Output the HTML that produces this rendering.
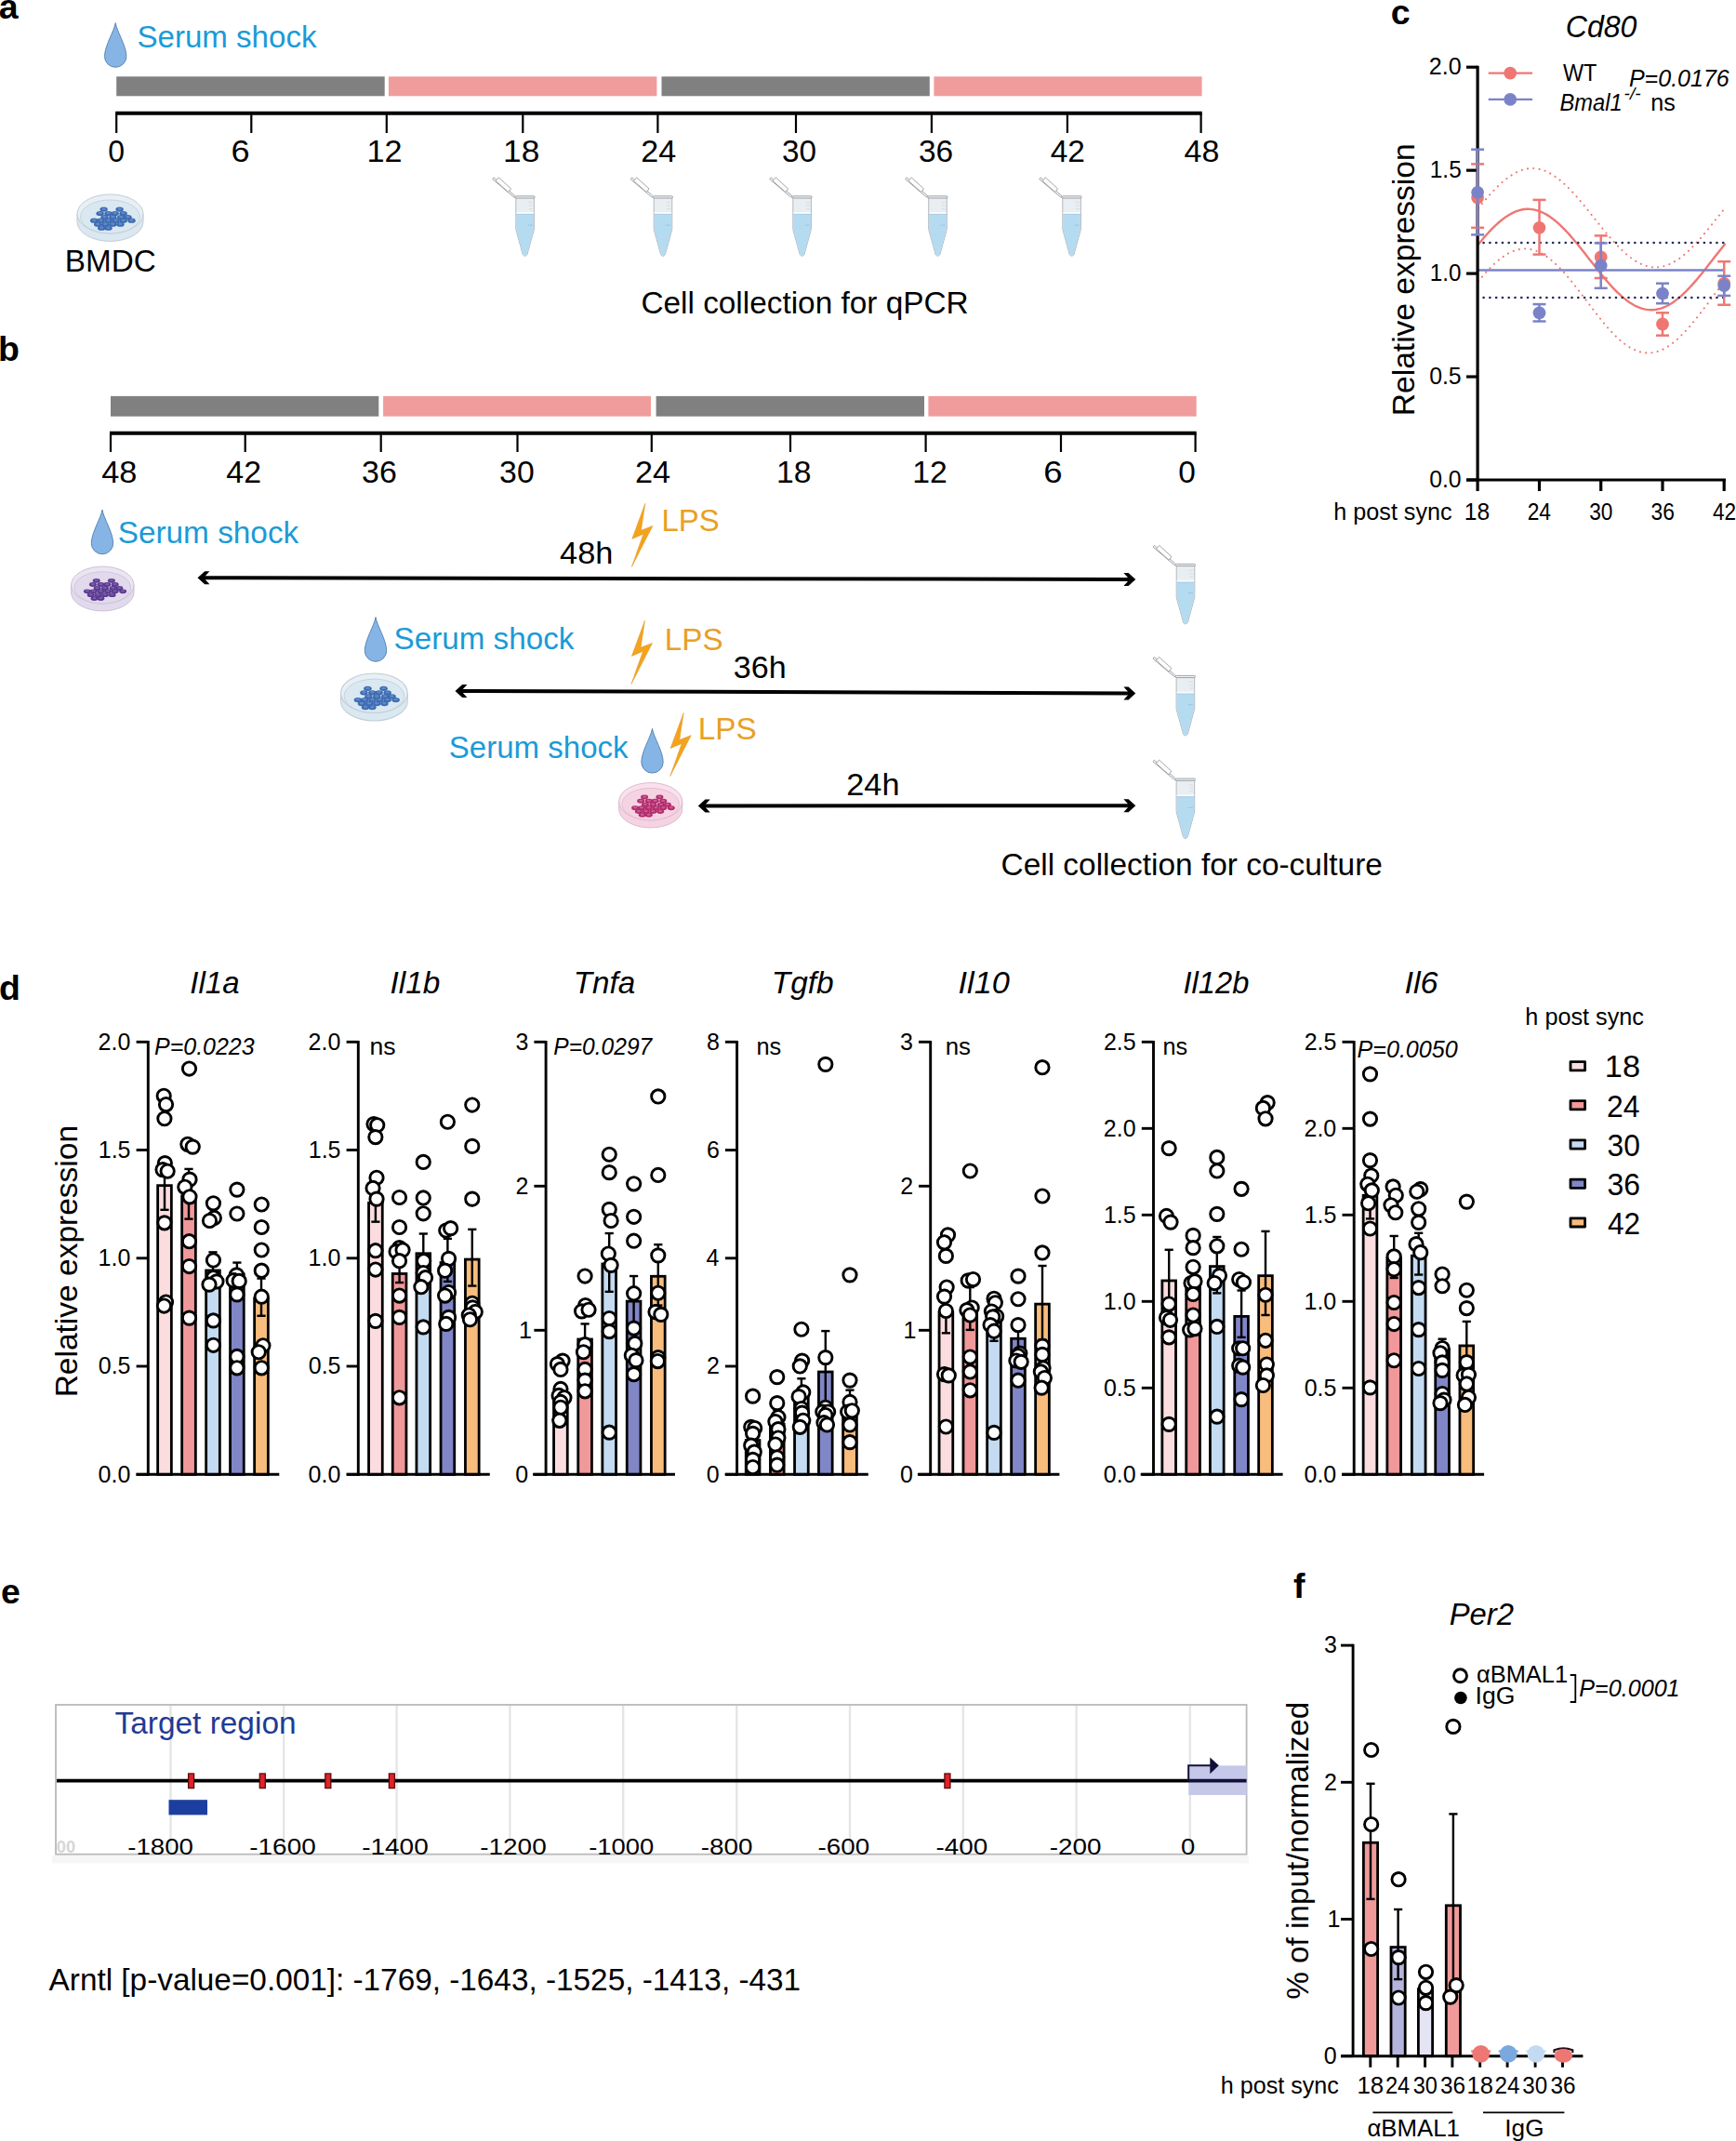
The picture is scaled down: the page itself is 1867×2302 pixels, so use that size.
<!DOCTYPE html><html><head><meta charset="utf-8"><title>figure</title><style>html,body{margin:0;padding:0;background:#fff}svg{display:block}text{font-family:"Liberation Sans",sans-serif}</style></head><body>
<svg width="1867" height="2302" viewBox="0 0 1867 2302">
<rect width="1867" height="2302" fill="#fff"/>
<text x="-1.24" y="20.20" font-size="37.50" fill="#000" font-weight="bold">a</text>
<g transform="translate(124.20 24.20)"><path d="M0,0.4 C1.2,9 11.7,25 11.7,36.4 A11.7,11.7 0 0 1 -11.7,36.4 C-11.7,25 -1.2,9 0,0.4 Z" fill="#86b5e5" stroke="#4f7fb0" stroke-width="0.9"/></g>
<text x="147.41" y="51.40" font-size="33.33" fill="#1B9AD7" textLength="193.14" lengthAdjust="spacingAndGlyphs">Serum shock</text>
<rect x="125.20" y="82.30" width="288.50" height="21.00" fill="#808080"/>
<rect x="417.90" y="82.30" width="288.50" height="21.00" fill="#f09c9c"/>
<rect x="711.50" y="82.30" width="288.30" height="21.00" fill="#808080"/>
<rect x="1004.40" y="82.30" width="288.20" height="21.00" fill="#f09c9c"/>
<line x1="124.20" y1="121.70" x2="1292.70" y2="121.70" stroke="#000" stroke-width="4.00"/>
<line x1="125.20" y1="121.70" x2="125.20" y2="143.00" stroke="#000" stroke-width="2.20"/>
<line x1="270.30" y1="121.70" x2="270.30" y2="143.00" stroke="#000" stroke-width="2.20"/>
<line x1="415.80" y1="121.70" x2="415.80" y2="143.00" stroke="#000" stroke-width="2.20"/>
<line x1="562.30" y1="121.70" x2="562.30" y2="143.00" stroke="#000" stroke-width="2.20"/>
<line x1="707.40" y1="121.70" x2="707.40" y2="143.00" stroke="#000" stroke-width="2.20"/>
<line x1="856.00" y1="121.70" x2="856.00" y2="143.00" stroke="#000" stroke-width="2.20"/>
<line x1="1001.90" y1="121.70" x2="1001.90" y2="143.00" stroke="#000" stroke-width="2.20"/>
<line x1="1147.90" y1="121.70" x2="1147.90" y2="143.00" stroke="#000" stroke-width="2.20"/>
<line x1="1291.60" y1="121.70" x2="1291.60" y2="143.00" stroke="#000" stroke-width="2.20"/>
<text x="116.18" y="174.20" font-size="33.33" fill="#000" textLength="17.77" lengthAdjust="spacingAndGlyphs">0</text>
<text x="248.49" y="174.20" font-size="33.33" fill="#000" textLength="20.09" lengthAdjust="spacingAndGlyphs">6</text>
<text x="394.46" y="174.20" font-size="33.33" fill="#000" textLength="38.16" lengthAdjust="spacingAndGlyphs">12</text>
<text x="541.05" y="174.20" font-size="33.33" fill="#000" textLength="39.24" lengthAdjust="spacingAndGlyphs">18</text>
<text x="689.39" y="174.20" font-size="33.33" fill="#000" textLength="37.94" lengthAdjust="spacingAndGlyphs">24</text>
<text x="841.04" y="174.20" font-size="33.33" fill="#000" textLength="37.01" lengthAdjust="spacingAndGlyphs">30</text>
<text x="987.93" y="174.20" font-size="33.33" fill="#000" textLength="37.19" lengthAdjust="spacingAndGlyphs">36</text>
<text x="1129.73" y="174.20" font-size="33.33" fill="#000" textLength="37.26" lengthAdjust="spacingAndGlyphs">42</text>
<text x="1273.52" y="174.20" font-size="33.33" fill="#000" textLength="37.82" lengthAdjust="spacingAndGlyphs">48</text>
<g transform="translate(118.50 234.20) scale(1.000)">
<path d="M-35.5,-4.2 L-35.5,4.2 A35.5,21 0 0 0 35.5,4.2 L35.5,-4.2 Z" fill="#d9e8f1" stroke="#c3cbd3" stroke-width="1"/>
<ellipse cx="0" cy="-4.2" rx="35.5" ry="21" fill="#e6f0f6" stroke="#c3cbd3" stroke-width="1"/>
<ellipse cx="0" cy="-1.2" rx="32" ry="18" fill="#d9e8f1" stroke="#c3cbd3" stroke-width="0.8"/>
<ellipse cx="-6.9" cy="-9.1" rx="4.2" ry="2.6" fill="#3d6ab0"/>
<ellipse cx="-6.9" cy="-9.5" rx="2.2" ry="1.2" fill="#5f8bcd"/>
<ellipse cx="10.1" cy="-9.1" rx="4.2" ry="2.6" fill="#3d6ab0"/>
<ellipse cx="10.1" cy="-9.5" rx="2.2" ry="1.2" fill="#5f8bcd"/>
<ellipse cx="-10.9" cy="-4.7" rx="4.2" ry="2.6" fill="#3d6ab0"/>
<ellipse cx="-10.9" cy="-5.1" rx="2.2" ry="1.2" fill="#5f8bcd"/>
<ellipse cx="-2.0" cy="-4.7" rx="4.2" ry="2.6" fill="#3d6ab0"/>
<ellipse cx="-2.0" cy="-5.1" rx="2.2" ry="1.2" fill="#5f8bcd"/>
<ellipse cx="5.2" cy="-4.7" rx="4.2" ry="2.6" fill="#3d6ab0"/>
<ellipse cx="5.2" cy="-5.1" rx="2.2" ry="1.2" fill="#5f8bcd"/>
<ellipse cx="14.1" cy="-4.7" rx="4.2" ry="2.6" fill="#3d6ab0"/>
<ellipse cx="14.1" cy="-5.1" rx="2.2" ry="1.2" fill="#5f8bcd"/>
<ellipse cx="-6.0" cy="-0.6" rx="4.2" ry="2.6" fill="#3d6ab0"/>
<ellipse cx="-6.0" cy="-1.0" rx="2.2" ry="1.2" fill="#5f8bcd"/>
<ellipse cx="2.8" cy="-0.6" rx="4.2" ry="2.6" fill="#3d6ab0"/>
<ellipse cx="2.8" cy="-1.0" rx="2.2" ry="1.2" fill="#5f8bcd"/>
<ellipse cx="11.7" cy="-0.6" rx="4.2" ry="2.6" fill="#3d6ab0"/>
<ellipse cx="11.7" cy="-1.0" rx="2.2" ry="1.2" fill="#5f8bcd"/>
<ellipse cx="19.0" cy="-0.6" rx="4.2" ry="2.6" fill="#3d6ab0"/>
<ellipse cx="19.0" cy="-1.0" rx="2.2" ry="1.2" fill="#5f8bcd"/>
<ellipse cx="-17.3" cy="3.0" rx="4.2" ry="2.6" fill="#3d6ab0"/>
<ellipse cx="-17.3" cy="2.6" rx="2.2" ry="1.2" fill="#5f8bcd"/>
<ellipse cx="-10.1" cy="3.0" rx="4.2" ry="2.6" fill="#3d6ab0"/>
<ellipse cx="-10.1" cy="2.6" rx="2.2" ry="1.2" fill="#5f8bcd"/>
<ellipse cx="-2.0" cy="3.0" rx="4.2" ry="2.6" fill="#3d6ab0"/>
<ellipse cx="-2.0" cy="2.6" rx="2.2" ry="1.2" fill="#5f8bcd"/>
<ellipse cx="6.0" cy="3.0" rx="4.2" ry="2.6" fill="#3d6ab0"/>
<ellipse cx="6.0" cy="2.6" rx="2.2" ry="1.2" fill="#5f8bcd"/>
<ellipse cx="14.1" cy="3.0" rx="4.2" ry="2.6" fill="#3d6ab0"/>
<ellipse cx="14.1" cy="2.6" rx="2.2" ry="1.2" fill="#5f8bcd"/>
<ellipse cx="23.0" cy="3.0" rx="4.2" ry="2.6" fill="#3d6ab0"/>
<ellipse cx="23.0" cy="2.6" rx="2.2" ry="1.2" fill="#5f8bcd"/>
<ellipse cx="-13.3" cy="7.0" rx="4.2" ry="2.6" fill="#3d6ab0"/>
<ellipse cx="-13.3" cy="6.6" rx="2.2" ry="1.2" fill="#5f8bcd"/>
<ellipse cx="-5.2" cy="7.0" rx="4.2" ry="2.6" fill="#3d6ab0"/>
<ellipse cx="-5.2" cy="6.6" rx="2.2" ry="1.2" fill="#5f8bcd"/>
<ellipse cx="2.8" cy="7.0" rx="4.2" ry="2.6" fill="#3d6ab0"/>
<ellipse cx="2.8" cy="6.6" rx="2.2" ry="1.2" fill="#5f8bcd"/>
<ellipse cx="10.9" cy="7.0" rx="4.2" ry="2.6" fill="#3d6ab0"/>
<ellipse cx="10.9" cy="6.6" rx="2.2" ry="1.2" fill="#5f8bcd"/>
<ellipse cx="-9.3" cy="11.0" rx="4.2" ry="2.6" fill="#3d6ab0"/>
<ellipse cx="-9.3" cy="10.6" rx="2.2" ry="1.2" fill="#5f8bcd"/>
<ellipse cx="-2.0" cy="11.0" rx="4.2" ry="2.6" fill="#3d6ab0"/>
<ellipse cx="-2.0" cy="10.6" rx="2.2" ry="1.2" fill="#5f8bcd"/>
</g>
<text x="69.84" y="291.90" font-size="33.33" fill="#000" textLength="97.97" lengthAdjust="spacingAndGlyphs">BMDC</text>
<g transform="translate(564.60 210.60)"><path d="M-10.5,1.6 L-12.5,1 L-34.9,-18 L-33.5,-19.7 L-12.6,-1.6 L-10.5,0.3" fill="#f3f4f5" stroke="#8e9296" stroke-width="0.8"/>
<path d="M-28.3,-19.8 L-15,-7.7 L-17.8,-4 L-31.5,-16.1 Z" fill="#fbfbfc" stroke="#8e9296" stroke-width="0.8" stroke-linejoin="round"/>
<path d="M-9.8,2 L-9.8,36 L-2.4,63 Q0,66.5 2.4,63 L9.8,36 L9.8,2 Z" fill="#e9eef2" stroke="#a3a9af" stroke-width="0.8"/>
<path d="M-9.4,19.8 L9.4,19.8 L9.4,36 L2.2,62.8 Q0,65.8 -2.2,62.8 L-9.4,36 Z" fill="#b5dbf1"/>
<path d="M-9.4,19.8 L9.4,19.8" stroke="#a4c7de" stroke-width="0.9"/>
<rect x="-9.3" y="17.4" width="18.6" height="1.8" fill="#f6fafc"/>
<path d="M3.5,7 H8 M4.5,10.5 H8 M4.5,14 H8" stroke="#d3d8dc" stroke-width="0.8"/>
<path d="M3,31.5 H8" stroke="#9fc3db" stroke-width="1"/>
<rect x="-10.5" y="0.2" width="21" height="2.2" rx="0.8" fill="#eef0f2" stroke="#8e9296" stroke-width="0.8"/></g>
<g transform="translate(713.00 210.60)"><path d="M-10.5,1.6 L-12.5,1 L-34.9,-18 L-33.5,-19.7 L-12.6,-1.6 L-10.5,0.3" fill="#f3f4f5" stroke="#8e9296" stroke-width="0.8"/>
<path d="M-28.3,-19.8 L-15,-7.7 L-17.8,-4 L-31.5,-16.1 Z" fill="#fbfbfc" stroke="#8e9296" stroke-width="0.8" stroke-linejoin="round"/>
<path d="M-9.8,2 L-9.8,36 L-2.4,63 Q0,66.5 2.4,63 L9.8,36 L9.8,2 Z" fill="#e9eef2" stroke="#a3a9af" stroke-width="0.8"/>
<path d="M-9.4,19.8 L9.4,19.8 L9.4,36 L2.2,62.8 Q0,65.8 -2.2,62.8 L-9.4,36 Z" fill="#b5dbf1"/>
<path d="M-9.4,19.8 L9.4,19.8" stroke="#a4c7de" stroke-width="0.9"/>
<rect x="-9.3" y="17.4" width="18.6" height="1.8" fill="#f6fafc"/>
<path d="M3.5,7 H8 M4.5,10.5 H8 M4.5,14 H8" stroke="#d3d8dc" stroke-width="0.8"/>
<path d="M3,31.5 H8" stroke="#9fc3db" stroke-width="1"/>
<rect x="-10.5" y="0.2" width="21" height="2.2" rx="0.8" fill="#eef0f2" stroke="#8e9296" stroke-width="0.8"/></g>
<g transform="translate(862.60 210.60)"><path d="M-10.5,1.6 L-12.5,1 L-34.9,-18 L-33.5,-19.7 L-12.6,-1.6 L-10.5,0.3" fill="#f3f4f5" stroke="#8e9296" stroke-width="0.8"/>
<path d="M-28.3,-19.8 L-15,-7.7 L-17.8,-4 L-31.5,-16.1 Z" fill="#fbfbfc" stroke="#8e9296" stroke-width="0.8" stroke-linejoin="round"/>
<path d="M-9.8,2 L-9.8,36 L-2.4,63 Q0,66.5 2.4,63 L9.8,36 L9.8,2 Z" fill="#e9eef2" stroke="#a3a9af" stroke-width="0.8"/>
<path d="M-9.4,19.8 L9.4,19.8 L9.4,36 L2.2,62.8 Q0,65.8 -2.2,62.8 L-9.4,36 Z" fill="#b5dbf1"/>
<path d="M-9.4,19.8 L9.4,19.8" stroke="#a4c7de" stroke-width="0.9"/>
<rect x="-9.3" y="17.4" width="18.6" height="1.8" fill="#f6fafc"/>
<path d="M3.5,7 H8 M4.5,10.5 H8 M4.5,14 H8" stroke="#d3d8dc" stroke-width="0.8"/>
<path d="M3,31.5 H8" stroke="#9fc3db" stroke-width="1"/>
<rect x="-10.5" y="0.2" width="21" height="2.2" rx="0.8" fill="#eef0f2" stroke="#8e9296" stroke-width="0.8"/></g>
<g transform="translate(1008.50 210.60)"><path d="M-10.5,1.6 L-12.5,1 L-34.9,-18 L-33.5,-19.7 L-12.6,-1.6 L-10.5,0.3" fill="#f3f4f5" stroke="#8e9296" stroke-width="0.8"/>
<path d="M-28.3,-19.8 L-15,-7.7 L-17.8,-4 L-31.5,-16.1 Z" fill="#fbfbfc" stroke="#8e9296" stroke-width="0.8" stroke-linejoin="round"/>
<path d="M-9.8,2 L-9.8,36 L-2.4,63 Q0,66.5 2.4,63 L9.8,36 L9.8,2 Z" fill="#e9eef2" stroke="#a3a9af" stroke-width="0.8"/>
<path d="M-9.4,19.8 L9.4,19.8 L9.4,36 L2.2,62.8 Q0,65.8 -2.2,62.8 L-9.4,36 Z" fill="#b5dbf1"/>
<path d="M-9.4,19.8 L9.4,19.8" stroke="#a4c7de" stroke-width="0.9"/>
<rect x="-9.3" y="17.4" width="18.6" height="1.8" fill="#f6fafc"/>
<path d="M3.5,7 H8 M4.5,10.5 H8 M4.5,14 H8" stroke="#d3d8dc" stroke-width="0.8"/>
<path d="M3,31.5 H8" stroke="#9fc3db" stroke-width="1"/>
<rect x="-10.5" y="0.2" width="21" height="2.2" rx="0.8" fill="#eef0f2" stroke="#8e9296" stroke-width="0.8"/></g>
<g transform="translate(1152.60 210.60)"><path d="M-10.5,1.6 L-12.5,1 L-34.9,-18 L-33.5,-19.7 L-12.6,-1.6 L-10.5,0.3" fill="#f3f4f5" stroke="#8e9296" stroke-width="0.8"/>
<path d="M-28.3,-19.8 L-15,-7.7 L-17.8,-4 L-31.5,-16.1 Z" fill="#fbfbfc" stroke="#8e9296" stroke-width="0.8" stroke-linejoin="round"/>
<path d="M-9.8,2 L-9.8,36 L-2.4,63 Q0,66.5 2.4,63 L9.8,36 L9.8,2 Z" fill="#e9eef2" stroke="#a3a9af" stroke-width="0.8"/>
<path d="M-9.4,19.8 L9.4,19.8 L9.4,36 L2.2,62.8 Q0,65.8 -2.2,62.8 L-9.4,36 Z" fill="#b5dbf1"/>
<path d="M-9.4,19.8 L9.4,19.8" stroke="#a4c7de" stroke-width="0.9"/>
<rect x="-9.3" y="17.4" width="18.6" height="1.8" fill="#f6fafc"/>
<path d="M3.5,7 H8 M4.5,10.5 H8 M4.5,14 H8" stroke="#d3d8dc" stroke-width="0.8"/>
<path d="M3,31.5 H8" stroke="#9fc3db" stroke-width="1"/>
<rect x="-10.5" y="0.2" width="21" height="2.2" rx="0.8" fill="#eef0f2" stroke="#8e9296" stroke-width="0.8"/></g>
<text x="689.43" y="337.00" font-size="33.33" fill="#000" textLength="352.20" lengthAdjust="spacingAndGlyphs">Cell collection for qPCR</text>
<text x="-1.94" y="388.40" font-size="37.50" fill="#000" font-weight="bold">b</text>
<rect x="119.00" y="425.90" width="288.30" height="21.80" fill="#808080"/>
<rect x="412.10" y="425.90" width="287.90" height="21.80" fill="#f09c9c"/>
<rect x="705.60" y="425.90" width="288.40" height="21.80" fill="#808080"/>
<rect x="998.40" y="425.90" width="288.30" height="21.80" fill="#f09c9c"/>
<line x1="118.00" y1="465.80" x2="1286.70" y2="465.80" stroke="#000" stroke-width="4.00"/>
<line x1="119.00" y1="465.80" x2="119.00" y2="486.00" stroke="#000" stroke-width="2.20"/>
<line x1="263.70" y1="465.80" x2="263.70" y2="486.00" stroke="#000" stroke-width="2.20"/>
<line x1="409.70" y1="465.80" x2="409.70" y2="486.00" stroke="#000" stroke-width="2.20"/>
<line x1="556.50" y1="465.80" x2="556.50" y2="486.00" stroke="#000" stroke-width="2.20"/>
<line x1="700.80" y1="465.80" x2="700.80" y2="486.00" stroke="#000" stroke-width="2.20"/>
<line x1="850.00" y1="465.80" x2="850.00" y2="486.00" stroke="#000" stroke-width="2.20"/>
<line x1="995.60" y1="465.80" x2="995.60" y2="486.00" stroke="#000" stroke-width="2.20"/>
<line x1="1141.00" y1="465.80" x2="1141.00" y2="486.00" stroke="#000" stroke-width="2.20"/>
<line x1="1285.60" y1="465.80" x2="1285.60" y2="486.00" stroke="#000" stroke-width="2.20"/>
<text x="109.31" y="518.50" font-size="33.33" fill="#000" textLength="38.14" lengthAdjust="spacingAndGlyphs">48</text>
<text x="243.32" y="518.50" font-size="33.33" fill="#000" textLength="37.68" lengthAdjust="spacingAndGlyphs">42</text>
<text x="389.11" y="518.50" font-size="33.33" fill="#000" textLength="37.72" lengthAdjust="spacingAndGlyphs">36</text>
<text x="537.12" y="518.50" font-size="33.33" fill="#000" textLength="37.54" lengthAdjust="spacingAndGlyphs">30</text>
<text x="682.99" y="518.50" font-size="33.33" fill="#000" textLength="38.15" lengthAdjust="spacingAndGlyphs">24</text>
<text x="835.04" y="518.50" font-size="33.33" fill="#000" textLength="37.39" lengthAdjust="spacingAndGlyphs">18</text>
<text x="981.32" y="518.50" font-size="33.33" fill="#000" textLength="37.58" lengthAdjust="spacingAndGlyphs">12</text>
<text x="1122.17" y="518.50" font-size="33.33" fill="#000" textLength="20.33" lengthAdjust="spacingAndGlyphs">6</text>
<text x="1267.33" y="518.50" font-size="33.33" fill="#000" textLength="18.58" lengthAdjust="spacingAndGlyphs">0</text>
<g transform="translate(110.00 547.70)"><path d="M0,0.4 C1.2,9 11.7,25 11.7,36.4 A11.7,11.7 0 0 1 -11.7,36.4 C-11.7,25 -1.2,9 0,0.4 Z" fill="#86b5e5" stroke="#4f7fb0" stroke-width="0.9"/></g>
<text x="126.70" y="584.00" font-size="33.33" fill="#1B9AD7" textLength="194.55" lengthAdjust="spacingAndGlyphs">Serum shock</text>
<g transform="translate(110.30 633.00) scale(0.950)">
<path d="M-35.5,-4.2 L-35.5,4.2 A35.5,21 0 0 0 35.5,4.2 L35.5,-4.2 Z" fill="#e2d9ec" stroke="#c9c0d2" stroke-width="1"/>
<ellipse cx="0" cy="-4.2" rx="35.5" ry="21" fill="#ebe4f2" stroke="#c9c0d2" stroke-width="1"/>
<ellipse cx="0" cy="-1.2" rx="32" ry="18" fill="#e2d9ec" stroke="#c9c0d2" stroke-width="0.8"/>
<ellipse cx="-6.9" cy="-9.1" rx="4.2" ry="2.6" fill="#5a3a8e"/>
<ellipse cx="-6.9" cy="-9.5" rx="2.2" ry="1.2" fill="#7a5cae"/>
<ellipse cx="10.1" cy="-9.1" rx="4.2" ry="2.6" fill="#5a3a8e"/>
<ellipse cx="10.1" cy="-9.5" rx="2.2" ry="1.2" fill="#7a5cae"/>
<ellipse cx="-10.9" cy="-4.7" rx="4.2" ry="2.6" fill="#5a3a8e"/>
<ellipse cx="-10.9" cy="-5.1" rx="2.2" ry="1.2" fill="#7a5cae"/>
<ellipse cx="-2.0" cy="-4.7" rx="4.2" ry="2.6" fill="#5a3a8e"/>
<ellipse cx="-2.0" cy="-5.1" rx="2.2" ry="1.2" fill="#7a5cae"/>
<ellipse cx="5.2" cy="-4.7" rx="4.2" ry="2.6" fill="#5a3a8e"/>
<ellipse cx="5.2" cy="-5.1" rx="2.2" ry="1.2" fill="#7a5cae"/>
<ellipse cx="14.1" cy="-4.7" rx="4.2" ry="2.6" fill="#5a3a8e"/>
<ellipse cx="14.1" cy="-5.1" rx="2.2" ry="1.2" fill="#7a5cae"/>
<ellipse cx="-6.0" cy="-0.6" rx="4.2" ry="2.6" fill="#5a3a8e"/>
<ellipse cx="-6.0" cy="-1.0" rx="2.2" ry="1.2" fill="#7a5cae"/>
<ellipse cx="2.8" cy="-0.6" rx="4.2" ry="2.6" fill="#5a3a8e"/>
<ellipse cx="2.8" cy="-1.0" rx="2.2" ry="1.2" fill="#7a5cae"/>
<ellipse cx="11.7" cy="-0.6" rx="4.2" ry="2.6" fill="#5a3a8e"/>
<ellipse cx="11.7" cy="-1.0" rx="2.2" ry="1.2" fill="#7a5cae"/>
<ellipse cx="19.0" cy="-0.6" rx="4.2" ry="2.6" fill="#5a3a8e"/>
<ellipse cx="19.0" cy="-1.0" rx="2.2" ry="1.2" fill="#7a5cae"/>
<ellipse cx="-17.3" cy="3.0" rx="4.2" ry="2.6" fill="#5a3a8e"/>
<ellipse cx="-17.3" cy="2.6" rx="2.2" ry="1.2" fill="#7a5cae"/>
<ellipse cx="-10.1" cy="3.0" rx="4.2" ry="2.6" fill="#5a3a8e"/>
<ellipse cx="-10.1" cy="2.6" rx="2.2" ry="1.2" fill="#7a5cae"/>
<ellipse cx="-2.0" cy="3.0" rx="4.2" ry="2.6" fill="#5a3a8e"/>
<ellipse cx="-2.0" cy="2.6" rx="2.2" ry="1.2" fill="#7a5cae"/>
<ellipse cx="6.0" cy="3.0" rx="4.2" ry="2.6" fill="#5a3a8e"/>
<ellipse cx="6.0" cy="2.6" rx="2.2" ry="1.2" fill="#7a5cae"/>
<ellipse cx="14.1" cy="3.0" rx="4.2" ry="2.6" fill="#5a3a8e"/>
<ellipse cx="14.1" cy="2.6" rx="2.2" ry="1.2" fill="#7a5cae"/>
<ellipse cx="23.0" cy="3.0" rx="4.2" ry="2.6" fill="#5a3a8e"/>
<ellipse cx="23.0" cy="2.6" rx="2.2" ry="1.2" fill="#7a5cae"/>
<ellipse cx="-13.3" cy="7.0" rx="4.2" ry="2.6" fill="#5a3a8e"/>
<ellipse cx="-13.3" cy="6.6" rx="2.2" ry="1.2" fill="#7a5cae"/>
<ellipse cx="-5.2" cy="7.0" rx="4.2" ry="2.6" fill="#5a3a8e"/>
<ellipse cx="-5.2" cy="6.6" rx="2.2" ry="1.2" fill="#7a5cae"/>
<ellipse cx="2.8" cy="7.0" rx="4.2" ry="2.6" fill="#5a3a8e"/>
<ellipse cx="2.8" cy="6.6" rx="2.2" ry="1.2" fill="#7a5cae"/>
<ellipse cx="10.9" cy="7.0" rx="4.2" ry="2.6" fill="#5a3a8e"/>
<ellipse cx="10.9" cy="6.6" rx="2.2" ry="1.2" fill="#7a5cae"/>
<ellipse cx="-9.3" cy="11.0" rx="4.2" ry="2.6" fill="#5a3a8e"/>
<ellipse cx="-9.3" cy="10.6" rx="2.2" ry="1.2" fill="#7a5cae"/>
<ellipse cx="-2.0" cy="11.0" rx="4.2" ry="2.6" fill="#5a3a8e"/>
<ellipse cx="-2.0" cy="10.6" rx="2.2" ry="1.2" fill="#7a5cae"/>
</g>
<text x="602.11" y="606.10" font-size="33.33" fill="#000" textLength="57.37" lengthAdjust="spacingAndGlyphs">48h</text>
<g transform="translate(693.90 541.30)"><path d="M0,0 L-14.1,38.1 L-2,32.9 L-14.5,68.1 L8,24.2 L-4.5,29 Z" fill="#f5a21c" stroke="#e09a28" stroke-width="0.6" stroke-linejoin="round"/></g>
<text x="711.56" y="571.10" font-size="33.33" fill="#E8A023" textLength="62.26" lengthAdjust="spacingAndGlyphs">LPS</text>
<line x1="216.50" y1="621.20" x2="1217.30" y2="622.90" stroke="#000" stroke-width="4.00"/>
<g transform="translate(1221.30 622.90)"><path d="M-12.9,-7 L-7.7,-7 L0,0 L-7.7,7 L-12.9,7 L-6.5,0 Z" fill="#000"/></g>
<g transform="translate(212.50 621.20)"><path d="M12.9,-7 L7.7,-7 L0,0 L7.7,7 L12.9,7 L6.5,0 Z" fill="#000"/></g>
<line x1="493.50" y1="742.90" x2="1217.30" y2="745.40" stroke="#000" stroke-width="4.00"/>
<g transform="translate(1221.30 745.40)"><path d="M-12.9,-7 L-7.7,-7 L0,0 L-7.7,7 L-12.9,7 L-6.5,0 Z" fill="#000"/></g>
<g transform="translate(489.50 742.90)"><path d="M12.9,-7 L7.7,-7 L0,0 L7.7,7 L12.9,7 L6.5,0 Z" fill="#000"/></g>
<line x1="754.80" y1="866.50" x2="1217.30" y2="866.20" stroke="#000" stroke-width="4.00"/>
<g transform="translate(1221.30 866.20)"><path d="M-12.9,-7 L-7.7,-7 L0,0 L-7.7,7 L-12.9,7 L-6.5,0 Z" fill="#000"/></g>
<g transform="translate(750.80 866.50)"><path d="M12.9,-7 L7.7,-7 L0,0 L7.7,7 L12.9,7 L6.5,0 Z" fill="#000"/></g>
<g transform="translate(1275.00 606.20)"><path d="M-10.5,1.6 L-12.5,1 L-34.9,-18 L-33.5,-19.7 L-12.6,-1.6 L-10.5,0.3" fill="#f3f4f5" stroke="#8e9296" stroke-width="0.8"/>
<path d="M-28.3,-19.8 L-15,-7.7 L-17.8,-4 L-31.5,-16.1 Z" fill="#fbfbfc" stroke="#8e9296" stroke-width="0.8" stroke-linejoin="round"/>
<path d="M-9.8,2 L-9.8,36 L-2.4,63 Q0,66.5 2.4,63 L9.8,36 L9.8,2 Z" fill="#e9eef2" stroke="#a3a9af" stroke-width="0.8"/>
<path d="M-9.4,19.8 L9.4,19.8 L9.4,36 L2.2,62.8 Q0,65.8 -2.2,62.8 L-9.4,36 Z" fill="#b5dbf1"/>
<path d="M-9.4,19.8 L9.4,19.8" stroke="#a4c7de" stroke-width="0.9"/>
<rect x="-9.3" y="17.4" width="18.6" height="1.8" fill="#f6fafc"/>
<path d="M3.5,7 H8 M4.5,10.5 H8 M4.5,14 H8" stroke="#d3d8dc" stroke-width="0.8"/>
<path d="M3,31.5 H8" stroke="#9fc3db" stroke-width="1"/>
<rect x="-10.5" y="0.2" width="21" height="2.2" rx="0.8" fill="#eef0f2" stroke="#8e9296" stroke-width="0.8"/></g>
<g transform="translate(404.00 663.20)"><path d="M0,0.4 C1.2,9 11.7,25 11.7,36.4 A11.7,11.7 0 0 1 -11.7,36.4 C-11.7,25 -1.2,9 0,0.4 Z" fill="#86b5e5" stroke="#4f7fb0" stroke-width="0.9"/></g>
<text x="423.50" y="698.30" font-size="33.33" fill="#1B9AD7" textLength="193.95" lengthAdjust="spacingAndGlyphs">Serum shock</text>
<g transform="translate(693.50 667.30)"><path d="M0,0 L-14.1,38.1 L-2,32.9 L-14.5,68.1 L8,24.2 L-4.5,29 Z" fill="#f5a21c" stroke="#e09a28" stroke-width="0.6" stroke-linejoin="round"/></g>
<text x="714.84" y="698.50" font-size="33.33" fill="#E8A023" textLength="62.79" lengthAdjust="spacingAndGlyphs">LPS</text>
<text x="788.81" y="728.70" font-size="33.33" fill="#000" textLength="56.86" lengthAdjust="spacingAndGlyphs">36h</text>
<g transform="translate(402.40 749.50) scale(1.010)">
<path d="M-35.5,-4.2 L-35.5,4.2 A35.5,21 0 0 0 35.5,4.2 L35.5,-4.2 Z" fill="#d9e8f1" stroke="#c3cbd3" stroke-width="1"/>
<ellipse cx="0" cy="-4.2" rx="35.5" ry="21" fill="#e6f0f6" stroke="#c3cbd3" stroke-width="1"/>
<ellipse cx="0" cy="-1.2" rx="32" ry="18" fill="#d9e8f1" stroke="#c3cbd3" stroke-width="0.8"/>
<ellipse cx="-6.9" cy="-9.1" rx="4.2" ry="2.6" fill="#3d6ab0"/>
<ellipse cx="-6.9" cy="-9.5" rx="2.2" ry="1.2" fill="#5f8bcd"/>
<ellipse cx="10.1" cy="-9.1" rx="4.2" ry="2.6" fill="#3d6ab0"/>
<ellipse cx="10.1" cy="-9.5" rx="2.2" ry="1.2" fill="#5f8bcd"/>
<ellipse cx="-10.9" cy="-4.7" rx="4.2" ry="2.6" fill="#3d6ab0"/>
<ellipse cx="-10.9" cy="-5.1" rx="2.2" ry="1.2" fill="#5f8bcd"/>
<ellipse cx="-2.0" cy="-4.7" rx="4.2" ry="2.6" fill="#3d6ab0"/>
<ellipse cx="-2.0" cy="-5.1" rx="2.2" ry="1.2" fill="#5f8bcd"/>
<ellipse cx="5.2" cy="-4.7" rx="4.2" ry="2.6" fill="#3d6ab0"/>
<ellipse cx="5.2" cy="-5.1" rx="2.2" ry="1.2" fill="#5f8bcd"/>
<ellipse cx="14.1" cy="-4.7" rx="4.2" ry="2.6" fill="#3d6ab0"/>
<ellipse cx="14.1" cy="-5.1" rx="2.2" ry="1.2" fill="#5f8bcd"/>
<ellipse cx="-6.0" cy="-0.6" rx="4.2" ry="2.6" fill="#3d6ab0"/>
<ellipse cx="-6.0" cy="-1.0" rx="2.2" ry="1.2" fill="#5f8bcd"/>
<ellipse cx="2.8" cy="-0.6" rx="4.2" ry="2.6" fill="#3d6ab0"/>
<ellipse cx="2.8" cy="-1.0" rx="2.2" ry="1.2" fill="#5f8bcd"/>
<ellipse cx="11.7" cy="-0.6" rx="4.2" ry="2.6" fill="#3d6ab0"/>
<ellipse cx="11.7" cy="-1.0" rx="2.2" ry="1.2" fill="#5f8bcd"/>
<ellipse cx="19.0" cy="-0.6" rx="4.2" ry="2.6" fill="#3d6ab0"/>
<ellipse cx="19.0" cy="-1.0" rx="2.2" ry="1.2" fill="#5f8bcd"/>
<ellipse cx="-17.3" cy="3.0" rx="4.2" ry="2.6" fill="#3d6ab0"/>
<ellipse cx="-17.3" cy="2.6" rx="2.2" ry="1.2" fill="#5f8bcd"/>
<ellipse cx="-10.1" cy="3.0" rx="4.2" ry="2.6" fill="#3d6ab0"/>
<ellipse cx="-10.1" cy="2.6" rx="2.2" ry="1.2" fill="#5f8bcd"/>
<ellipse cx="-2.0" cy="3.0" rx="4.2" ry="2.6" fill="#3d6ab0"/>
<ellipse cx="-2.0" cy="2.6" rx="2.2" ry="1.2" fill="#5f8bcd"/>
<ellipse cx="6.0" cy="3.0" rx="4.2" ry="2.6" fill="#3d6ab0"/>
<ellipse cx="6.0" cy="2.6" rx="2.2" ry="1.2" fill="#5f8bcd"/>
<ellipse cx="14.1" cy="3.0" rx="4.2" ry="2.6" fill="#3d6ab0"/>
<ellipse cx="14.1" cy="2.6" rx="2.2" ry="1.2" fill="#5f8bcd"/>
<ellipse cx="23.0" cy="3.0" rx="4.2" ry="2.6" fill="#3d6ab0"/>
<ellipse cx="23.0" cy="2.6" rx="2.2" ry="1.2" fill="#5f8bcd"/>
<ellipse cx="-13.3" cy="7.0" rx="4.2" ry="2.6" fill="#3d6ab0"/>
<ellipse cx="-13.3" cy="6.6" rx="2.2" ry="1.2" fill="#5f8bcd"/>
<ellipse cx="-5.2" cy="7.0" rx="4.2" ry="2.6" fill="#3d6ab0"/>
<ellipse cx="-5.2" cy="6.6" rx="2.2" ry="1.2" fill="#5f8bcd"/>
<ellipse cx="2.8" cy="7.0" rx="4.2" ry="2.6" fill="#3d6ab0"/>
<ellipse cx="2.8" cy="6.6" rx="2.2" ry="1.2" fill="#5f8bcd"/>
<ellipse cx="10.9" cy="7.0" rx="4.2" ry="2.6" fill="#3d6ab0"/>
<ellipse cx="10.9" cy="6.6" rx="2.2" ry="1.2" fill="#5f8bcd"/>
<ellipse cx="-9.3" cy="11.0" rx="4.2" ry="2.6" fill="#3d6ab0"/>
<ellipse cx="-9.3" cy="10.6" rx="2.2" ry="1.2" fill="#5f8bcd"/>
<ellipse cx="-2.0" cy="11.0" rx="4.2" ry="2.6" fill="#3d6ab0"/>
<ellipse cx="-2.0" cy="10.6" rx="2.2" ry="1.2" fill="#5f8bcd"/>
</g>
<g transform="translate(1274.90 726.20)"><path d="M-10.5,1.6 L-12.5,1 L-34.9,-18 L-33.5,-19.7 L-12.6,-1.6 L-10.5,0.3" fill="#f3f4f5" stroke="#8e9296" stroke-width="0.8"/>
<path d="M-28.3,-19.8 L-15,-7.7 L-17.8,-4 L-31.5,-16.1 Z" fill="#fbfbfc" stroke="#8e9296" stroke-width="0.8" stroke-linejoin="round"/>
<path d="M-9.8,2 L-9.8,36 L-2.4,63 Q0,66.5 2.4,63 L9.8,36 L9.8,2 Z" fill="#e9eef2" stroke="#a3a9af" stroke-width="0.8"/>
<path d="M-9.4,19.8 L9.4,19.8 L9.4,36 L2.2,62.8 Q0,65.8 -2.2,62.8 L-9.4,36 Z" fill="#b5dbf1"/>
<path d="M-9.4,19.8 L9.4,19.8" stroke="#a4c7de" stroke-width="0.9"/>
<rect x="-9.3" y="17.4" width="18.6" height="1.8" fill="#f6fafc"/>
<path d="M3.5,7 H8 M4.5,10.5 H8 M4.5,14 H8" stroke="#d3d8dc" stroke-width="0.8"/>
<path d="M3,31.5 H8" stroke="#9fc3db" stroke-width="1"/>
<rect x="-10.5" y="0.2" width="21" height="2.2" rx="0.8" fill="#eef0f2" stroke="#8e9296" stroke-width="0.8"/></g>
<text x="482.81" y="815.40" font-size="33.33" fill="#1B9AD7" textLength="192.84" lengthAdjust="spacingAndGlyphs">Serum shock</text>
<g transform="translate(701.50 783.00)"><path d="M0,0.4 C1.2,9 11.7,25 11.7,36.4 A11.7,11.7 0 0 1 -11.7,36.4 C-11.7,25 -1.2,9 0,0.4 Z" fill="#86b5e5" stroke="#4f7fb0" stroke-width="0.9"/></g>
<g transform="translate(735.20 766.50)"><path d="M0,0 L-14.1,38.1 L-2,32.9 L-14.5,68.1 L8,24.2 L-4.5,29 Z" fill="#f5a21c" stroke="#e09a28" stroke-width="0.6" stroke-linejoin="round"/></g>
<text x="750.83" y="795.20" font-size="33.33" fill="#E8A023" textLength="63.01" lengthAdjust="spacingAndGlyphs">LPS</text>
<text x="910.29" y="854.50" font-size="33.33" fill="#000" textLength="57.19" lengthAdjust="spacingAndGlyphs">24h</text>
<g transform="translate(699.70 865.80) scale(0.960)">
<path d="M-35.5,-4.2 L-35.5,4.2 A35.5,21 0 0 0 35.5,4.2 L35.5,-4.2 Z" fill="#f6d3e3" stroke="#d9b9c9" stroke-width="1"/>
<ellipse cx="0" cy="-4.2" rx="35.5" ry="21" fill="#f9e0ec" stroke="#d9b9c9" stroke-width="1"/>
<ellipse cx="0" cy="-1.2" rx="32" ry="18" fill="#f6d3e3" stroke="#d9b9c9" stroke-width="0.8"/>
<ellipse cx="-6.9" cy="-9.1" rx="4.2" ry="2.6" fill="#b02c6c"/>
<ellipse cx="-6.9" cy="-9.5" rx="2.2" ry="1.2" fill="#cf5a92"/>
<ellipse cx="10.1" cy="-9.1" rx="4.2" ry="2.6" fill="#b02c6c"/>
<ellipse cx="10.1" cy="-9.5" rx="2.2" ry="1.2" fill="#cf5a92"/>
<ellipse cx="-10.9" cy="-4.7" rx="4.2" ry="2.6" fill="#b02c6c"/>
<ellipse cx="-10.9" cy="-5.1" rx="2.2" ry="1.2" fill="#cf5a92"/>
<ellipse cx="-2.0" cy="-4.7" rx="4.2" ry="2.6" fill="#b02c6c"/>
<ellipse cx="-2.0" cy="-5.1" rx="2.2" ry="1.2" fill="#cf5a92"/>
<ellipse cx="5.2" cy="-4.7" rx="4.2" ry="2.6" fill="#b02c6c"/>
<ellipse cx="5.2" cy="-5.1" rx="2.2" ry="1.2" fill="#cf5a92"/>
<ellipse cx="14.1" cy="-4.7" rx="4.2" ry="2.6" fill="#b02c6c"/>
<ellipse cx="14.1" cy="-5.1" rx="2.2" ry="1.2" fill="#cf5a92"/>
<ellipse cx="-6.0" cy="-0.6" rx="4.2" ry="2.6" fill="#b02c6c"/>
<ellipse cx="-6.0" cy="-1.0" rx="2.2" ry="1.2" fill="#cf5a92"/>
<ellipse cx="2.8" cy="-0.6" rx="4.2" ry="2.6" fill="#b02c6c"/>
<ellipse cx="2.8" cy="-1.0" rx="2.2" ry="1.2" fill="#cf5a92"/>
<ellipse cx="11.7" cy="-0.6" rx="4.2" ry="2.6" fill="#b02c6c"/>
<ellipse cx="11.7" cy="-1.0" rx="2.2" ry="1.2" fill="#cf5a92"/>
<ellipse cx="19.0" cy="-0.6" rx="4.2" ry="2.6" fill="#b02c6c"/>
<ellipse cx="19.0" cy="-1.0" rx="2.2" ry="1.2" fill="#cf5a92"/>
<ellipse cx="-17.3" cy="3.0" rx="4.2" ry="2.6" fill="#b02c6c"/>
<ellipse cx="-17.3" cy="2.6" rx="2.2" ry="1.2" fill="#cf5a92"/>
<ellipse cx="-10.1" cy="3.0" rx="4.2" ry="2.6" fill="#b02c6c"/>
<ellipse cx="-10.1" cy="2.6" rx="2.2" ry="1.2" fill="#cf5a92"/>
<ellipse cx="-2.0" cy="3.0" rx="4.2" ry="2.6" fill="#b02c6c"/>
<ellipse cx="-2.0" cy="2.6" rx="2.2" ry="1.2" fill="#cf5a92"/>
<ellipse cx="6.0" cy="3.0" rx="4.2" ry="2.6" fill="#b02c6c"/>
<ellipse cx="6.0" cy="2.6" rx="2.2" ry="1.2" fill="#cf5a92"/>
<ellipse cx="14.1" cy="3.0" rx="4.2" ry="2.6" fill="#b02c6c"/>
<ellipse cx="14.1" cy="2.6" rx="2.2" ry="1.2" fill="#cf5a92"/>
<ellipse cx="23.0" cy="3.0" rx="4.2" ry="2.6" fill="#b02c6c"/>
<ellipse cx="23.0" cy="2.6" rx="2.2" ry="1.2" fill="#cf5a92"/>
<ellipse cx="-13.3" cy="7.0" rx="4.2" ry="2.6" fill="#b02c6c"/>
<ellipse cx="-13.3" cy="6.6" rx="2.2" ry="1.2" fill="#cf5a92"/>
<ellipse cx="-5.2" cy="7.0" rx="4.2" ry="2.6" fill="#b02c6c"/>
<ellipse cx="-5.2" cy="6.6" rx="2.2" ry="1.2" fill="#cf5a92"/>
<ellipse cx="2.8" cy="7.0" rx="4.2" ry="2.6" fill="#b02c6c"/>
<ellipse cx="2.8" cy="6.6" rx="2.2" ry="1.2" fill="#cf5a92"/>
<ellipse cx="10.9" cy="7.0" rx="4.2" ry="2.6" fill="#b02c6c"/>
<ellipse cx="10.9" cy="6.6" rx="2.2" ry="1.2" fill="#cf5a92"/>
<ellipse cx="-9.3" cy="11.0" rx="4.2" ry="2.6" fill="#b02c6c"/>
<ellipse cx="-9.3" cy="10.6" rx="2.2" ry="1.2" fill="#cf5a92"/>
<ellipse cx="-2.0" cy="11.0" rx="4.2" ry="2.6" fill="#b02c6c"/>
<ellipse cx="-2.0" cy="10.6" rx="2.2" ry="1.2" fill="#cf5a92"/>
</g>
<g transform="translate(1274.90 836.90)"><path d="M-10.5,1.6 L-12.5,1 L-34.9,-18 L-33.5,-19.7 L-12.6,-1.6 L-10.5,0.3" fill="#f3f4f5" stroke="#8e9296" stroke-width="0.8"/>
<path d="M-28.3,-19.8 L-15,-7.7 L-17.8,-4 L-31.5,-16.1 Z" fill="#fbfbfc" stroke="#8e9296" stroke-width="0.8" stroke-linejoin="round"/>
<path d="M-9.8,2 L-9.8,36 L-2.4,63 Q0,66.5 2.4,63 L9.8,36 L9.8,2 Z" fill="#e9eef2" stroke="#a3a9af" stroke-width="0.8"/>
<path d="M-9.4,19.8 L9.4,19.8 L9.4,36 L2.2,62.8 Q0,65.8 -2.2,62.8 L-9.4,36 Z" fill="#b5dbf1"/>
<path d="M-9.4,19.8 L9.4,19.8" stroke="#a4c7de" stroke-width="0.9"/>
<rect x="-9.3" y="17.4" width="18.6" height="1.8" fill="#f6fafc"/>
<path d="M3.5,7 H8 M4.5,10.5 H8 M4.5,14 H8" stroke="#d3d8dc" stroke-width="0.8"/>
<path d="M3,31.5 H8" stroke="#9fc3db" stroke-width="1"/>
<rect x="-10.5" y="0.2" width="21" height="2.2" rx="0.8" fill="#eef0f2" stroke="#8e9296" stroke-width="0.8"/></g>
<text x="1076.53" y="941.00" font-size="33.33" fill="#000" textLength="410.41" lengthAdjust="spacingAndGlyphs">Cell collection for co-culture</text>
<text x="1495.69" y="26.30" font-size="37.50" fill="#000" font-weight="bold">c</text>
<text x="1683.74" y="39.60" font-size="33.33" fill="#000" font-style="italic" textLength="76.65" lengthAdjust="spacingAndGlyphs">Cd80</text>
<path d="M1590.0,223.9 L1592.0,221.4 L1594.0,219.0 L1596.0,216.6 L1598.0,214.2 L1600.0,211.9 L1602.0,209.6 L1604.0,207.4 L1606.0,205.3 L1608.0,203.2 L1610.0,201.2 L1612.0,199.2 L1614.0,197.4 L1616.0,195.6 L1618.0,193.9 L1620.0,192.3 L1622.0,190.8 L1624.0,189.4 L1626.0,188.1 L1628.0,186.9 L1630.0,185.8 L1632.0,184.8 L1634.0,183.9 L1636.0,183.1 L1638.0,182.5 L1640.0,182.0 L1642.0,181.5 L1644.0,181.2 L1646.0,181.1 L1648.0,181.0 L1650.0,181.1 L1652.0,181.2 L1654.0,181.5 L1656.0,182.0 L1658.0,182.5 L1660.0,183.1 L1662.0,183.9 L1664.0,184.8 L1666.0,185.8 L1668.0,186.9 L1670.0,188.1 L1672.0,189.4 L1674.0,190.8 L1676.0,192.3 L1678.0,193.9 L1680.0,195.6 L1682.0,197.4 L1684.0,199.2 L1686.0,201.2 L1688.0,203.2 L1690.0,205.3 L1692.0,207.4 L1694.0,209.6 L1696.0,211.9 L1698.0,214.2 L1700.0,216.6 L1702.0,219.0 L1704.0,221.4 L1706.0,223.9 L1708.0,226.3 L1710.0,228.8 L1712.0,231.4 L1714.0,233.9 L1716.0,236.4 L1718.0,238.9 L1720.0,241.4 L1722.0,243.9 L1724.0,246.4 L1726.0,248.8 L1728.0,251.2 L1730.0,253.6 L1732.0,255.9 L1734.0,258.2 L1736.0,260.4 L1738.0,262.6 L1740.0,264.7 L1742.0,266.7 L1744.0,268.7 L1746.0,270.6 L1748.0,272.4 L1750.0,274.1 L1752.0,275.7 L1754.0,277.2 L1756.0,278.7 L1758.0,280.0 L1760.0,281.2 L1762.0,282.4 L1764.0,283.4 L1766.0,284.3 L1768.0,285.1 L1770.0,285.8 L1772.0,286.3 L1774.0,286.8 L1776.0,287.1 L1778.0,287.3 L1780.0,287.4 L1782.0,287.4 L1784.0,287.2 L1786.0,286.9 L1788.0,286.6 L1790.0,286.1 L1792.0,285.4 L1794.0,284.7 L1796.0,283.8 L1798.0,282.9 L1800.0,281.8 L1802.0,280.6 L1804.0,279.4 L1806.0,278.0 L1808.0,276.5 L1810.0,274.9 L1812.0,273.2 L1814.0,271.5 L1816.0,269.6 L1818.0,267.7 L1820.0,265.7 L1822.0,263.7 L1824.0,261.5 L1826.0,259.3 L1828.0,257.1 L1830.0,254.8 L1832.0,252.4 L1834.0,250.0 L1836.0,247.6 L1838.0,245.2 L1840.0,242.7 L1842.0,240.2 L1844.0,237.7 L1846.0,235.1 L1848.0,232.6 L1850.0,230.1 L1852.0,227.6 L1854.0,225.1" fill="none" stroke="#ee7773" stroke-width="2.1" stroke-linecap="round" stroke-dasharray="0.01 6.3"/>
<path d="M1590.0,302.5 L1592.0,300.0 L1594.0,297.6 L1596.0,295.3 L1598.0,293.0 L1600.0,290.9 L1602.0,288.7 L1604.0,286.7 L1606.0,284.7 L1608.0,282.9 L1610.0,281.1 L1612.0,279.4 L1614.0,277.8 L1616.0,276.3 L1618.0,274.9 L1620.0,273.7 L1622.0,272.5 L1624.0,271.5 L1626.0,270.6 L1628.0,269.8 L1630.0,269.1 L1632.0,268.5 L1634.0,268.1 L1636.0,267.8 L1638.0,267.6 L1640.0,267.5 L1642.0,267.6 L1644.0,267.8 L1646.0,268.1 L1648.0,268.5 L1650.0,269.1 L1652.0,269.8 L1654.0,270.6 L1656.0,271.5 L1658.0,272.5 L1660.0,273.7 L1662.0,274.9 L1664.0,276.3 L1666.0,277.8 L1668.0,279.4 L1670.0,281.1 L1672.0,282.9 L1674.0,284.7 L1676.0,286.7 L1678.0,288.7 L1680.0,290.9 L1682.0,293.0 L1684.0,295.3 L1686.0,297.6 L1688.0,300.0 L1690.0,302.5 L1692.0,304.9 L1694.0,307.5 L1696.0,310.0 L1698.0,312.6 L1700.0,315.2 L1702.0,317.9 L1704.0,320.5 L1706.0,323.2 L1708.0,325.8 L1710.0,328.5 L1712.0,331.1 L1714.0,333.7 L1716.0,336.3 L1718.0,338.9 L1720.0,341.4 L1722.0,343.9 L1724.0,346.4 L1726.0,348.8 L1728.0,351.1 L1730.0,353.4 L1732.0,355.6 L1734.0,357.7 L1736.0,359.8 L1738.0,361.8 L1740.0,363.7 L1742.0,365.5 L1744.0,367.2 L1746.0,368.8 L1748.0,370.3 L1750.0,371.7 L1752.0,373.0 L1754.0,374.2 L1756.0,375.3 L1758.0,376.2 L1760.0,377.1 L1762.0,377.8 L1764.0,378.4 L1766.0,378.8 L1768.0,379.2 L1770.0,379.4 L1772.0,379.5 L1774.0,379.5 L1776.0,379.3 L1778.0,379.0 L1780.0,378.6 L1782.0,378.1 L1784.0,377.4 L1786.0,376.7 L1788.0,375.8 L1790.0,374.7 L1792.0,373.6 L1794.0,372.4 L1796.0,371.0 L1798.0,369.6 L1800.0,368.0 L1802.0,366.4 L1804.0,364.6 L1806.0,362.7 L1808.0,360.8 L1810.0,358.8 L1812.0,356.7 L1814.0,354.5 L1816.0,352.3 L1818.0,350.0 L1820.0,347.6 L1822.0,345.2 L1824.0,342.7 L1826.0,340.2 L1828.0,337.6 L1830.0,335.0 L1832.0,332.4 L1834.0,329.8 L1836.0,327.1 L1838.0,324.5 L1840.0,321.8 L1842.0,319.2 L1844.0,316.5 L1846.0,313.9 L1848.0,311.3 L1850.0,308.7 L1852.0,306.2 L1854.0,303.7" fill="none" stroke="#ee7773" stroke-width="2.1" stroke-linecap="round" stroke-dasharray="0.01 6.3"/>
<path d="M1589.5,263.2 L1591.5,260.8 L1593.5,258.4 L1595.5,256.0 L1597.5,253.7 L1599.5,251.5 L1601.5,249.3 L1603.5,247.2 L1605.5,245.1 L1607.5,243.2 L1609.5,241.3 L1611.5,239.5 L1613.5,237.8 L1615.5,236.2 L1617.5,234.6 L1619.5,233.2 L1621.5,231.9 L1623.5,230.7 L1625.5,229.6 L1627.5,228.6 L1629.5,227.7 L1631.5,226.9 L1633.5,226.3 L1635.5,225.7 L1637.5,225.3 L1639.5,225.0 L1641.5,224.8 L1643.5,224.8 L1645.5,224.9 L1647.5,225.1 L1649.5,225.4 L1651.5,225.8 L1653.5,226.4 L1655.5,227.1 L1657.5,227.8 L1659.5,228.7 L1661.5,229.8 L1663.5,230.9 L1665.5,232.1 L1667.5,233.5 L1669.5,234.9 L1671.5,236.5 L1673.5,238.1 L1675.5,239.8 L1677.5,241.7 L1679.5,243.6 L1681.5,245.6 L1683.5,247.6 L1685.5,249.7 L1687.5,251.9 L1689.5,254.2 L1691.5,256.5 L1693.5,258.9 L1695.5,261.3 L1697.5,263.7 L1699.5,266.2 L1701.5,268.7 L1703.5,271.3 L1705.5,273.8 L1707.5,276.4 L1709.5,278.9 L1711.5,281.5 L1713.5,284.1 L1715.5,286.6 L1717.5,289.2 L1719.5,291.7 L1721.5,294.2 L1723.5,296.6 L1725.5,299.0 L1727.5,301.4 L1729.5,303.7 L1731.5,306.0 L1733.5,308.2 L1735.5,310.3 L1737.5,312.3 L1739.5,314.3 L1741.5,316.2 L1743.5,318.1 L1745.5,319.8 L1747.5,321.4 L1749.5,323.0 L1751.5,324.5 L1753.5,325.8 L1755.5,327.0 L1757.5,328.2 L1759.5,329.2 L1761.5,330.1 L1763.5,330.9 L1765.5,331.6 L1767.5,332.2 L1769.5,332.6 L1771.5,332.9 L1773.5,333.1 L1775.5,333.2 L1777.5,333.2 L1779.5,333.0 L1781.5,332.7 L1783.5,332.3 L1785.5,331.8 L1787.5,331.1 L1789.5,330.4 L1791.5,329.5 L1793.5,328.5 L1795.5,327.4 L1797.5,326.2 L1799.5,324.9 L1801.5,323.4 L1803.5,321.9 L1805.5,320.3 L1807.5,318.6 L1809.5,316.8 L1811.5,314.9 L1813.5,313.0 L1815.5,310.9 L1817.5,308.8 L1819.5,306.6 L1821.5,304.4 L1823.5,302.1 L1825.5,299.7 L1827.5,297.3 L1829.5,294.9 L1831.5,292.4 L1833.5,289.9 L1835.5,287.4 L1837.5,284.8 L1839.5,282.3 L1841.5,279.7 L1843.5,277.1 L1845.5,274.6 L1847.5,272.0 L1849.5,269.5 L1851.5,267.0 L1853.5,264.5 L1855.5,262.0" fill="none" stroke="#ee7773" stroke-width="2.4"/>
<line x1="1590.00" y1="290.50" x2="1854.50" y2="290.50" stroke="#7b83c8" stroke-width="2.60"/>
<line x1="1595.60" y1="261.00" x2="1855.00" y2="261.00" stroke="#232b5c" stroke-width="2.70" stroke-linecap="round" stroke-dasharray="0.01 6.77"/>
<line x1="1595.60" y1="320.00" x2="1855.00" y2="320.00" stroke="#232b5c" stroke-width="2.70" stroke-linecap="round" stroke-dasharray="0.01 6.77"/>
<line x1="1589.10" y1="70.80" x2="1589.10" y2="528.00" stroke="#000" stroke-width="3.20"/>
<line x1="1577.00" y1="516.00" x2="1856.00" y2="516.00" stroke="#000" stroke-width="3.20"/>
<line x1="1577.00" y1="516.00" x2="1589.10" y2="516.00" stroke="#000" stroke-width="3.20"/>
<line x1="1577.00" y1="405.05" x2="1589.10" y2="405.05" stroke="#000" stroke-width="3.20"/>
<line x1="1577.00" y1="294.10" x2="1589.10" y2="294.10" stroke="#000" stroke-width="3.20"/>
<line x1="1577.00" y1="183.15" x2="1589.10" y2="183.15" stroke="#000" stroke-width="3.20"/>
<line x1="1577.00" y1="72.20" x2="1589.10" y2="72.20" stroke="#000" stroke-width="3.20"/>
<line x1="1655.50" y1="516.00" x2="1655.50" y2="528.00" stroke="#000" stroke-width="3.20"/>
<line x1="1721.70" y1="516.00" x2="1721.70" y2="528.00" stroke="#000" stroke-width="3.20"/>
<line x1="1788.00" y1="516.00" x2="1788.00" y2="528.00" stroke="#000" stroke-width="3.20"/>
<line x1="1854.20" y1="516.00" x2="1854.20" y2="528.00" stroke="#000" stroke-width="3.20"/>
<text x="1536.75" y="80.10" font-size="25.00" fill="#000" textLength="34.83" lengthAdjust="spacingAndGlyphs">2.0</text>
<text x="1537.85" y="191.05" font-size="25.00" fill="#000" textLength="33.83" lengthAdjust="spacingAndGlyphs">1.5</text>
<text x="1537.86" y="302.00" font-size="25.00" fill="#000" textLength="33.69" lengthAdjust="spacingAndGlyphs">1.0</text>
<text x="1537.13" y="412.95" font-size="25.00" fill="#000" textLength="34.57" lengthAdjust="spacingAndGlyphs">0.5</text>
<text x="1537.13" y="523.90" font-size="25.00" fill="#000" textLength="34.44" lengthAdjust="spacingAndGlyphs">0.0</text>
<text x="1574.72" y="559.00" font-size="25.00" fill="#000" textLength="27.32" lengthAdjust="spacingAndGlyphs">18</text>
<text x="1642.66" y="559.00" font-size="25.00" fill="#000" textLength="25.36" lengthAdjust="spacingAndGlyphs">24</text>
<text x="1709.21" y="559.00" font-size="25.00" fill="#000" textLength="25.24" lengthAdjust="spacingAndGlyphs">30</text>
<text x="1775.50" y="559.00" font-size="25.00" fill="#000" textLength="25.36" lengthAdjust="spacingAndGlyphs">36</text>
<text x="1842.05" y="559.00" font-size="25.00" fill="#000" textLength="25.12" lengthAdjust="spacingAndGlyphs">42</text>
<text x="1434.37" y="559.00" font-size="25.00" fill="#000" textLength="127.22" lengthAdjust="spacingAndGlyphs">h post sync</text>
<text transform="translate(1520.50 444.50) rotate(-90)" x="-2.68" y="0" font-size="33.33" fill="#000" textLength="292.76" lengthAdjust="spacingAndGlyphs">Relative expression</text>
<line x1="1589.10" y1="176.40" x2="1589.10" y2="244.80" stroke="#ee7773" stroke-width="2.50"/>
<line x1="1582.10" y1="176.40" x2="1596.10" y2="176.40" stroke="#ee7773" stroke-width="2.50"/>
<line x1="1582.10" y1="244.80" x2="1596.10" y2="244.80" stroke="#ee7773" stroke-width="2.50"/>
<circle cx="1589.10" cy="212.60" r="6.90" fill="#ee7773"/>
<line x1="1655.50" y1="214.90" x2="1655.50" y2="273.60" stroke="#ee7773" stroke-width="2.50"/>
<line x1="1648.50" y1="214.90" x2="1662.50" y2="214.90" stroke="#ee7773" stroke-width="2.50"/>
<line x1="1648.50" y1="273.60" x2="1662.50" y2="273.60" stroke="#ee7773" stroke-width="2.50"/>
<circle cx="1655.50" cy="244.80" r="6.90" fill="#ee7773"/>
<line x1="1721.70" y1="253.40" x2="1721.70" y2="299.00" stroke="#ee7773" stroke-width="2.50"/>
<line x1="1714.70" y1="253.40" x2="1728.70" y2="253.40" stroke="#ee7773" stroke-width="2.50"/>
<line x1="1714.70" y1="299.00" x2="1728.70" y2="299.00" stroke="#ee7773" stroke-width="2.50"/>
<circle cx="1721.70" cy="276.40" r="6.90" fill="#ee7773"/>
<line x1="1788.00" y1="336.30" x2="1788.00" y2="360.70" stroke="#ee7773" stroke-width="2.50"/>
<line x1="1781.00" y1="336.30" x2="1795.00" y2="336.30" stroke="#ee7773" stroke-width="2.50"/>
<line x1="1781.00" y1="360.70" x2="1795.00" y2="360.70" stroke="#ee7773" stroke-width="2.50"/>
<circle cx="1788.00" cy="348.50" r="6.90" fill="#ee7773"/>
<line x1="1854.20" y1="281.20" x2="1854.20" y2="327.80" stroke="#ee7773" stroke-width="2.50"/>
<line x1="1847.20" y1="281.20" x2="1861.20" y2="281.20" stroke="#ee7773" stroke-width="2.50"/>
<line x1="1847.20" y1="327.80" x2="1861.20" y2="327.80" stroke="#ee7773" stroke-width="2.50"/>
<circle cx="1854.20" cy="304.70" r="6.90" fill="#ee7773"/>
<line x1="1589.10" y1="160.70" x2="1589.10" y2="252.40" stroke="#7b83c8" stroke-width="2.50"/>
<line x1="1582.10" y1="160.70" x2="1596.10" y2="160.70" stroke="#7b83c8" stroke-width="2.50"/>
<line x1="1582.10" y1="252.40" x2="1596.10" y2="252.40" stroke="#7b83c8" stroke-width="2.50"/>
<circle cx="1589.10" cy="206.80" r="6.90" fill="#7b83c8"/>
<line x1="1655.50" y1="327.10" x2="1655.50" y2="345.50" stroke="#7b83c8" stroke-width="2.50"/>
<line x1="1648.50" y1="327.10" x2="1662.50" y2="327.10" stroke="#7b83c8" stroke-width="2.50"/>
<line x1="1648.50" y1="345.50" x2="1662.50" y2="345.50" stroke="#7b83c8" stroke-width="2.50"/>
<circle cx="1655.50" cy="336.30" r="6.90" fill="#7b83c8"/>
<line x1="1721.70" y1="261.40" x2="1721.70" y2="309.80" stroke="#7b83c8" stroke-width="2.50"/>
<line x1="1714.70" y1="261.40" x2="1728.70" y2="261.40" stroke="#7b83c8" stroke-width="2.50"/>
<line x1="1714.70" y1="309.80" x2="1728.70" y2="309.80" stroke="#7b83c8" stroke-width="2.50"/>
<circle cx="1721.70" cy="285.60" r="6.90" fill="#7b83c8"/>
<line x1="1788.00" y1="304.70" x2="1788.00" y2="326.20" stroke="#7b83c8" stroke-width="2.50"/>
<line x1="1781.00" y1="304.70" x2="1795.00" y2="304.70" stroke="#7b83c8" stroke-width="2.50"/>
<line x1="1781.00" y1="326.20" x2="1795.00" y2="326.20" stroke="#7b83c8" stroke-width="2.50"/>
<circle cx="1788.00" cy="315.60" r="6.90" fill="#7b83c8"/>
<line x1="1854.20" y1="296.70" x2="1854.20" y2="317.90" stroke="#7b83c8" stroke-width="2.50"/>
<line x1="1847.20" y1="296.70" x2="1861.20" y2="296.70" stroke="#7b83c8" stroke-width="2.50"/>
<line x1="1847.20" y1="317.90" x2="1861.20" y2="317.90" stroke="#7b83c8" stroke-width="2.50"/>
<circle cx="1854.20" cy="307.00" r="6.90" fill="#7b83c8"/>
<line x1="1600.70" y1="78.60" x2="1648.10" y2="78.60" stroke="#ee7773" stroke-width="2.20"/>
<circle cx="1624.20" cy="78.60" r="6.90" fill="#ee7773"/>
<line x1="1600.70" y1="106.90" x2="1648.10" y2="106.90" stroke="#7b83c8" stroke-width="2.20"/>
<circle cx="1624.20" cy="106.90" r="6.90" fill="#7b83c8"/>
<text x="1680.90" y="86.70" font-size="25.00" fill="#000" textLength="36.46" lengthAdjust="spacingAndGlyphs">WT</text>
<text x="1751.95" y="93.00" font-size="25.00" fill="#000" font-style="italic" textLength="107.82" lengthAdjust="spacingAndGlyphs">P=0.0176</text>
<text x="1677.49" y="118.80" font-size="25.00" fill="#000" font-style="italic" textLength="67.09" lengthAdjust="spacingAndGlyphs">Bmal1</text>
<text x="1746.55" y="106.50" font-size="17.50" fill="#000" font-style="italic" textLength="18.02" lengthAdjust="spacingAndGlyphs">-/-</text>
<text x="1775.17" y="118.80" font-size="25.00" fill="#000" textLength="26.54" lengthAdjust="spacingAndGlyphs">ns</text>
<text x="-1.00" y="1075.00" font-size="37.50" fill="#000" font-weight="bold">d</text>
<text transform="translate(83.00 1499.70) rotate(-90)" x="-2.68" y="0" font-size="33.33" fill="#000" textLength="292.45" lengthAdjust="spacingAndGlyphs">Relative expression</text>
<text x="204.34" y="1067.80" font-size="33.33" fill="#000" font-style="italic" textLength="53.22" lengthAdjust="spacingAndGlyphs">Il1a</text>
<rect x="169.65" y="1274.66" width="14.70" height="310.64" fill="#fbdde0" stroke="#000" stroke-width="2.8"/>
<line x1="177.00" y1="1245.71" x2="177.00" y2="1300.82" stroke="#000" stroke-width="2.40"/>
<line x1="172.40" y1="1245.71" x2="181.60" y2="1245.71" stroke="#000" stroke-width="2.40"/>
<line x1="172.40" y1="1300.82" x2="181.60" y2="1300.82" stroke="#000" stroke-width="2.40"/>
<rect x="195.65" y="1285.87" width="14.70" height="299.43" fill="#f0989a" stroke="#000" stroke-width="2.8"/>
<line x1="203.00" y1="1256.92" x2="203.00" y2="1310.62" stroke="#000" stroke-width="2.40"/>
<line x1="198.40" y1="1256.92" x2="207.60" y2="1256.92" stroke="#000" stroke-width="2.40"/>
<line x1="198.40" y1="1310.62" x2="207.60" y2="1310.62" stroke="#000" stroke-width="2.40"/>
<rect x="221.65" y="1365.97" width="14.70" height="219.33" fill="#c4dbf2" stroke="#000" stroke-width="2.8"/>
<line x1="229.00" y1="1346.35" x2="229.00" y2="1382.78" stroke="#000" stroke-width="2.40"/>
<line x1="224.40" y1="1346.35" x2="233.60" y2="1346.35" stroke="#000" stroke-width="2.40"/>
<line x1="224.40" y1="1382.78" x2="233.60" y2="1382.78" stroke="#000" stroke-width="2.40"/>
<rect x="247.55" y="1369.93" width="14.70" height="215.37" fill="#8186c7" stroke="#000" stroke-width="2.8"/>
<line x1="254.90" y1="1357.56" x2="254.90" y2="1379.51" stroke="#000" stroke-width="2.40"/>
<line x1="250.30" y1="1357.56" x2="259.50" y2="1357.56" stroke="#000" stroke-width="2.40"/>
<line x1="250.30" y1="1379.51" x2="259.50" y2="1379.51" stroke="#000" stroke-width="2.40"/>
<rect x="273.65" y="1396.09" width="14.70" height="189.21" fill="#f8bc7d" stroke="#000" stroke-width="2.8"/>
<line x1="281.00" y1="1374.61" x2="281.00" y2="1414.77" stroke="#000" stroke-width="2.40"/>
<line x1="276.40" y1="1374.61" x2="285.60" y2="1374.61" stroke="#000" stroke-width="2.40"/>
<line x1="276.40" y1="1414.77" x2="285.60" y2="1414.77" stroke="#000" stroke-width="2.40"/>
<line x1="159.30" y1="1118.90" x2="159.30" y2="1586.70" stroke="#000" stroke-width="2.90"/>
<line x1="146.50" y1="1585.30" x2="300.30" y2="1585.30" stroke="#000" stroke-width="2.90"/>
<line x1="146.60" y1="1120.30" x2="159.30" y2="1120.30" stroke="#000" stroke-width="2.90"/>
<text x="105.62" y="1128.70" font-size="25.00" fill="#000" textLength="34.75" lengthAdjust="spacingAndGlyphs">2.0</text>
<line x1="146.60" y1="1236.50" x2="159.30" y2="1236.50" stroke="#000" stroke-width="2.90"/>
<text x="105.75" y="1244.90" font-size="25.00" fill="#000" textLength="34.75" lengthAdjust="spacingAndGlyphs">1.5</text>
<line x1="146.60" y1="1352.80" x2="159.30" y2="1352.80" stroke="#000" stroke-width="2.90"/>
<text x="105.62" y="1361.20" font-size="25.00" fill="#000" textLength="34.75" lengthAdjust="spacingAndGlyphs">1.0</text>
<line x1="146.60" y1="1469.00" x2="159.30" y2="1469.00" stroke="#000" stroke-width="2.90"/>
<text x="105.75" y="1477.40" font-size="25.00" fill="#000" textLength="34.75" lengthAdjust="spacingAndGlyphs">0.5</text>
<line x1="146.60" y1="1585.30" x2="159.30" y2="1585.30" stroke="#000" stroke-width="2.90"/>
<text x="105.62" y="1593.70" font-size="25.00" fill="#000" textLength="34.75" lengthAdjust="spacingAndGlyphs">0.0</text>
<circle cx="176.19" cy="1178.23" r="7.15" fill="#fff" stroke="#000" stroke-width="2.90"/>
<circle cx="178.53" cy="1187.57" r="7.15" fill="#fff" stroke="#000" stroke-width="2.90"/>
<circle cx="176.89" cy="1202.74" r="7.15" fill="#fff" stroke="#000" stroke-width="2.90"/>
<circle cx="177.36" cy="1250.61" r="7.15" fill="#fff" stroke="#000" stroke-width="2.90"/>
<circle cx="175.03" cy="1257.62" r="7.15" fill="#fff" stroke="#000" stroke-width="2.90"/>
<circle cx="180.16" cy="1259.25" r="7.15" fill="#fff" stroke="#000" stroke-width="2.90"/>
<circle cx="176.89" cy="1314.83" r="7.15" fill="#fff" stroke="#000" stroke-width="2.90"/>
<circle cx="178.53" cy="1400.06" r="7.15" fill="#fff" stroke="#000" stroke-width="2.90"/>
<circle cx="176.43" cy="1404.03" r="7.15" fill="#fff" stroke="#000" stroke-width="2.90"/>
<circle cx="203.51" cy="1149.04" r="7.15" fill="#fff" stroke="#000" stroke-width="2.90"/>
<circle cx="201.88" cy="1230.30" r="7.15" fill="#fff" stroke="#000" stroke-width="2.90"/>
<circle cx="207.25" cy="1233.10" r="7.15" fill="#fff" stroke="#000" stroke-width="2.90"/>
<circle cx="203.98" cy="1268.13" r="7.15" fill="#fff" stroke="#000" stroke-width="2.90"/>
<circle cx="198.84" cy="1276.30" r="7.15" fill="#fff" stroke="#000" stroke-width="2.90"/>
<circle cx="203.98" cy="1286.81" r="7.15" fill="#fff" stroke="#000" stroke-width="2.90"/>
<circle cx="203.51" cy="1334.68" r="7.15" fill="#fff" stroke="#000" stroke-width="2.90"/>
<circle cx="203.51" cy="1361.53" r="7.15" fill="#fff" stroke="#000" stroke-width="2.90"/>
<circle cx="203.51" cy="1417.10" r="7.15" fill="#fff" stroke="#000" stroke-width="2.90"/>
<circle cx="229.43" cy="1293.81" r="7.15" fill="#fff" stroke="#000" stroke-width="2.90"/>
<circle cx="230.37" cy="1309.46" r="7.15" fill="#fff" stroke="#000" stroke-width="2.90"/>
<circle cx="225.46" cy="1312.49" r="7.15" fill="#fff" stroke="#000" stroke-width="2.90"/>
<circle cx="229.43" cy="1354.99" r="7.15" fill="#fff" stroke="#000" stroke-width="2.90"/>
<circle cx="229.43" cy="1373.67" r="7.15" fill="#fff" stroke="#000" stroke-width="2.90"/>
<circle cx="232.94" cy="1377.88" r="7.15" fill="#fff" stroke="#000" stroke-width="2.90"/>
<circle cx="225.00" cy="1381.14" r="7.15" fill="#fff" stroke="#000" stroke-width="2.90"/>
<circle cx="229.43" cy="1419.91" r="7.15" fill="#fff" stroke="#000" stroke-width="2.90"/>
<circle cx="229.43" cy="1446.29" r="7.15" fill="#fff" stroke="#000" stroke-width="2.90"/>
<circle cx="254.89" cy="1279.10" r="7.15" fill="#fff" stroke="#000" stroke-width="2.90"/>
<circle cx="254.89" cy="1305.02" r="7.15" fill="#fff" stroke="#000" stroke-width="2.90"/>
<circle cx="254.42" cy="1370.87" r="7.15" fill="#fff" stroke="#000" stroke-width="2.90"/>
<circle cx="251.15" cy="1376.71" r="7.15" fill="#fff" stroke="#000" stroke-width="2.90"/>
<circle cx="257.22" cy="1377.41" r="7.15" fill="#fff" stroke="#000" stroke-width="2.90"/>
<circle cx="254.89" cy="1391.89" r="7.15" fill="#fff" stroke="#000" stroke-width="2.90"/>
<circle cx="254.89" cy="1458.44" r="7.15" fill="#fff" stroke="#000" stroke-width="2.90"/>
<circle cx="254.89" cy="1470.81" r="7.15" fill="#fff" stroke="#000" stroke-width="2.90"/>
<circle cx="281.27" cy="1294.98" r="7.15" fill="#fff" stroke="#000" stroke-width="2.90"/>
<circle cx="281.27" cy="1319.50" r="7.15" fill="#fff" stroke="#000" stroke-width="2.90"/>
<circle cx="281.27" cy="1344.02" r="7.15" fill="#fff" stroke="#000" stroke-width="2.90"/>
<circle cx="281.27" cy="1366.20" r="7.15" fill="#fff" stroke="#000" stroke-width="2.90"/>
<circle cx="281.27" cy="1394.22" r="7.15" fill="#fff" stroke="#000" stroke-width="2.90"/>
<circle cx="282.91" cy="1446.76" r="7.15" fill="#fff" stroke="#000" stroke-width="2.90"/>
<circle cx="278.24" cy="1453.77" r="7.15" fill="#fff" stroke="#000" stroke-width="2.90"/>
<circle cx="281.27" cy="1470.81" r="7.15" fill="#fff" stroke="#000" stroke-width="2.90"/>
<text x="166.05" y="1133.60" font-size="25.00" fill="#000" font-style="italic" textLength="107.57" lengthAdjust="spacingAndGlyphs">P=0.0223</text>
<text x="419.53" y="1067.80" font-size="33.33" fill="#000" font-style="italic" textLength="53.78" lengthAdjust="spacingAndGlyphs">Il1b</text>
<rect x="396.55" y="1293.34" width="14.70" height="291.96" fill="#fbdde0" stroke="#000" stroke-width="2.8"/>
<line x1="403.90" y1="1270.23" x2="403.90" y2="1313.66" stroke="#000" stroke-width="2.40"/>
<line x1="399.30" y1="1270.23" x2="408.50" y2="1270.23" stroke="#000" stroke-width="2.40"/>
<line x1="399.30" y1="1313.66" x2="408.50" y2="1313.66" stroke="#000" stroke-width="2.40"/>
<rect x="422.25" y="1369.47" width="14.70" height="215.83" fill="#f0989a" stroke="#000" stroke-width="2.8"/>
<line x1="429.60" y1="1356.86" x2="429.60" y2="1379.04" stroke="#000" stroke-width="2.40"/>
<line x1="425.00" y1="1356.86" x2="434.20" y2="1356.86" stroke="#000" stroke-width="2.40"/>
<line x1="425.00" y1="1379.04" x2="434.20" y2="1379.04" stroke="#000" stroke-width="2.40"/>
<rect x="447.95" y="1347.75" width="14.70" height="237.55" fill="#c4dbf2" stroke="#000" stroke-width="2.8"/>
<line x1="455.30" y1="1326.50" x2="455.30" y2="1366.20" stroke="#000" stroke-width="2.40"/>
<line x1="450.70" y1="1326.50" x2="459.90" y2="1326.50" stroke="#000" stroke-width="2.40"/>
<line x1="450.70" y1="1366.20" x2="459.90" y2="1366.20" stroke="#000" stroke-width="2.40"/>
<rect x="474.05" y="1357.56" width="14.70" height="227.74" fill="#8186c7" stroke="#000" stroke-width="2.8"/>
<line x1="481.40" y1="1331.87" x2="481.40" y2="1377.88" stroke="#000" stroke-width="2.40"/>
<line x1="476.80" y1="1331.87" x2="486.00" y2="1331.87" stroke="#000" stroke-width="2.40"/>
<line x1="476.80" y1="1377.88" x2="486.00" y2="1377.88" stroke="#000" stroke-width="2.40"/>
<rect x="500.45" y="1354.06" width="14.70" height="231.24" fill="#f8bc7d" stroke="#000" stroke-width="2.8"/>
<line x1="507.80" y1="1321.83" x2="507.80" y2="1382.55" stroke="#000" stroke-width="2.40"/>
<line x1="503.20" y1="1321.83" x2="512.40" y2="1321.83" stroke="#000" stroke-width="2.40"/>
<line x1="503.20" y1="1382.55" x2="512.40" y2="1382.55" stroke="#000" stroke-width="2.40"/>
<line x1="385.30" y1="1118.90" x2="385.30" y2="1586.70" stroke="#000" stroke-width="2.90"/>
<line x1="372.80" y1="1585.30" x2="526.80" y2="1585.30" stroke="#000" stroke-width="2.90"/>
<line x1="372.60" y1="1120.30" x2="385.30" y2="1120.30" stroke="#000" stroke-width="2.90"/>
<text x="331.62" y="1128.70" font-size="25.00" fill="#000" textLength="34.75" lengthAdjust="spacingAndGlyphs">2.0</text>
<line x1="372.60" y1="1236.50" x2="385.30" y2="1236.50" stroke="#000" stroke-width="2.90"/>
<text x="331.75" y="1244.90" font-size="25.00" fill="#000" textLength="34.75" lengthAdjust="spacingAndGlyphs">1.5</text>
<line x1="372.60" y1="1352.80" x2="385.30" y2="1352.80" stroke="#000" stroke-width="2.90"/>
<text x="331.62" y="1361.20" font-size="25.00" fill="#000" textLength="34.75" lengthAdjust="spacingAndGlyphs">1.0</text>
<line x1="372.60" y1="1469.00" x2="385.30" y2="1469.00" stroke="#000" stroke-width="2.90"/>
<text x="331.75" y="1477.40" font-size="25.00" fill="#000" textLength="34.75" lengthAdjust="spacingAndGlyphs">0.5</text>
<line x1="372.60" y1="1585.30" x2="385.30" y2="1585.30" stroke="#000" stroke-width="2.90"/>
<text x="331.62" y="1593.70" font-size="25.00" fill="#000" textLength="34.75" lengthAdjust="spacingAndGlyphs">0.0</text>
<circle cx="402.00" cy="1208.58" r="7.15" fill="#fff" stroke="#000" stroke-width="2.90"/>
<circle cx="405.73" cy="1209.75" r="7.15" fill="#fff" stroke="#000" stroke-width="2.90"/>
<circle cx="403.86" cy="1222.59" r="7.15" fill="#fff" stroke="#000" stroke-width="2.90"/>
<circle cx="405.03" cy="1266.26" r="7.15" fill="#fff" stroke="#000" stroke-width="2.90"/>
<circle cx="401.06" cy="1277.47" r="7.15" fill="#fff" stroke="#000" stroke-width="2.90"/>
<circle cx="405.03" cy="1289.14" r="7.15" fill="#fff" stroke="#000" stroke-width="2.90"/>
<circle cx="403.86" cy="1344.72" r="7.15" fill="#fff" stroke="#000" stroke-width="2.90"/>
<circle cx="403.86" cy="1365.03" r="7.15" fill="#fff" stroke="#000" stroke-width="2.90"/>
<circle cx="403.86" cy="1420.37" r="7.15" fill="#fff" stroke="#000" stroke-width="2.90"/>
<circle cx="429.55" cy="1287.51" r="7.15" fill="#fff" stroke="#000" stroke-width="2.90"/>
<circle cx="429.55" cy="1319.50" r="7.15" fill="#fff" stroke="#000" stroke-width="2.90"/>
<circle cx="429.55" cy="1341.68" r="7.15" fill="#fff" stroke="#000" stroke-width="2.90"/>
<circle cx="426.05" cy="1345.65" r="7.15" fill="#fff" stroke="#000" stroke-width="2.90"/>
<circle cx="433.05" cy="1344.02" r="7.15" fill="#fff" stroke="#000" stroke-width="2.90"/>
<circle cx="429.55" cy="1355.69" r="7.15" fill="#fff" stroke="#000" stroke-width="2.90"/>
<circle cx="429.55" cy="1393.05" r="7.15" fill="#fff" stroke="#000" stroke-width="2.90"/>
<circle cx="429.55" cy="1416.40" r="7.15" fill="#fff" stroke="#000" stroke-width="2.90"/>
<circle cx="429.55" cy="1502.80" r="7.15" fill="#fff" stroke="#000" stroke-width="2.90"/>
<circle cx="455.24" cy="1249.45" r="7.15" fill="#fff" stroke="#000" stroke-width="2.90"/>
<circle cx="455.24" cy="1287.97" r="7.15" fill="#fff" stroke="#000" stroke-width="2.90"/>
<circle cx="455.24" cy="1304.79" r="7.15" fill="#fff" stroke="#000" stroke-width="2.90"/>
<circle cx="455.70" cy="1355.69" r="7.15" fill="#fff" stroke="#000" stroke-width="2.90"/>
<circle cx="455.24" cy="1368.53" r="7.15" fill="#fff" stroke="#000" stroke-width="2.90"/>
<circle cx="457.57" cy="1373.67" r="7.15" fill="#fff" stroke="#000" stroke-width="2.90"/>
<circle cx="452.90" cy="1383.71" r="7.15" fill="#fff" stroke="#000" stroke-width="2.90"/>
<circle cx="455.24" cy="1426.91" r="7.15" fill="#fff" stroke="#000" stroke-width="2.90"/>
<circle cx="481.39" cy="1206.25" r="7.15" fill="#fff" stroke="#000" stroke-width="2.90"/>
<circle cx="479.75" cy="1323.00" r="7.15" fill="#fff" stroke="#000" stroke-width="2.90"/>
<circle cx="484.66" cy="1320.67" r="7.15" fill="#fff" stroke="#000" stroke-width="2.90"/>
<circle cx="482.56" cy="1353.36" r="7.15" fill="#fff" stroke="#000" stroke-width="2.90"/>
<circle cx="478.59" cy="1366.20" r="7.15" fill="#fff" stroke="#000" stroke-width="2.90"/>
<circle cx="482.56" cy="1389.55" r="7.15" fill="#fff" stroke="#000" stroke-width="2.90"/>
<circle cx="478.59" cy="1393.05" r="7.15" fill="#fff" stroke="#000" stroke-width="2.90"/>
<circle cx="482.56" cy="1416.40" r="7.15" fill="#fff" stroke="#000" stroke-width="2.90"/>
<circle cx="479.75" cy="1423.41" r="7.15" fill="#fff" stroke="#000" stroke-width="2.90"/>
<circle cx="507.78" cy="1188.03" r="7.15" fill="#fff" stroke="#000" stroke-width="2.90"/>
<circle cx="507.78" cy="1232.40" r="7.15" fill="#fff" stroke="#000" stroke-width="2.90"/>
<circle cx="507.78" cy="1289.14" r="7.15" fill="#fff" stroke="#000" stroke-width="2.90"/>
<circle cx="507.78" cy="1401.23" r="7.15" fill="#fff" stroke="#000" stroke-width="2.90"/>
<circle cx="508.24" cy="1405.90" r="7.15" fill="#fff" stroke="#000" stroke-width="2.90"/>
<circle cx="511.28" cy="1410.57" r="7.15" fill="#fff" stroke="#000" stroke-width="2.90"/>
<circle cx="504.27" cy="1414.07" r="7.15" fill="#fff" stroke="#000" stroke-width="2.90"/>
<circle cx="505.44" cy="1418.74" r="7.15" fill="#fff" stroke="#000" stroke-width="2.90"/>
<text x="397.47" y="1133.60" font-size="25.00" fill="#000" textLength="28.09" lengthAdjust="spacingAndGlyphs">ns</text>
<text x="616.81" y="1067.80" font-size="33.33" fill="#000" font-style="italic" textLength="66.42" lengthAdjust="spacingAndGlyphs">Tnfa</text>
<rect x="595.55" y="1501.17" width="14.70" height="84.13" fill="#fbdde0" stroke="#000" stroke-width="2.8"/>
<line x1="602.90" y1="1487.62" x2="602.90" y2="1511.91" stroke="#000" stroke-width="2.40"/>
<line x1="598.30" y1="1487.62" x2="607.50" y2="1487.62" stroke="#000" stroke-width="2.40"/>
<line x1="598.30" y1="1511.91" x2="607.50" y2="1511.91" stroke="#000" stroke-width="2.40"/>
<rect x="621.75" y="1439.99" width="14.70" height="145.31" fill="#f0989a" stroke="#000" stroke-width="2.8"/>
<line x1="629.10" y1="1423.41" x2="629.10" y2="1453.77" stroke="#000" stroke-width="2.40"/>
<line x1="624.50" y1="1423.41" x2="633.70" y2="1423.41" stroke="#000" stroke-width="2.40"/>
<line x1="624.50" y1="1453.77" x2="633.70" y2="1453.77" stroke="#000" stroke-width="2.40"/>
<rect x="647.85" y="1358.96" width="14.70" height="226.34" fill="#c4dbf2" stroke="#000" stroke-width="2.8"/>
<line x1="655.20" y1="1326.04" x2="655.20" y2="1388.85" stroke="#000" stroke-width="2.40"/>
<line x1="650.60" y1="1326.04" x2="659.80" y2="1326.04" stroke="#000" stroke-width="2.40"/>
<line x1="650.60" y1="1388.85" x2="659.80" y2="1388.85" stroke="#000" stroke-width="2.40"/>
<rect x="674.25" y="1399.12" width="14.70" height="186.18" fill="#8186c7" stroke="#000" stroke-width="2.8"/>
<line x1="681.60" y1="1372.04" x2="681.60" y2="1423.41" stroke="#000" stroke-width="2.40"/>
<line x1="677.00" y1="1372.04" x2="686.20" y2="1372.04" stroke="#000" stroke-width="2.40"/>
<line x1="677.00" y1="1423.41" x2="686.20" y2="1423.41" stroke="#000" stroke-width="2.40"/>
<rect x="700.45" y="1372.27" width="14.70" height="213.03" fill="#f8bc7d" stroke="#000" stroke-width="2.8"/>
<line x1="707.80" y1="1338.18" x2="707.80" y2="1403.56" stroke="#000" stroke-width="2.40"/>
<line x1="703.20" y1="1338.18" x2="712.40" y2="1338.18" stroke="#000" stroke-width="2.40"/>
<line x1="703.20" y1="1403.56" x2="712.40" y2="1403.56" stroke="#000" stroke-width="2.40"/>
<line x1="587.10" y1="1118.90" x2="587.10" y2="1586.70" stroke="#000" stroke-width="2.90"/>
<line x1="573.10" y1="1585.30" x2="726.00" y2="1585.30" stroke="#000" stroke-width="2.90"/>
<line x1="574.40" y1="1120.30" x2="587.10" y2="1120.30" stroke="#000" stroke-width="2.90"/>
<text x="554.43" y="1128.70" font-size="25.00" fill="#000" textLength="13.90" lengthAdjust="spacingAndGlyphs">3</text>
<line x1="574.40" y1="1275.30" x2="587.10" y2="1275.30" stroke="#000" stroke-width="2.90"/>
<text x="554.55" y="1283.70" font-size="25.00" fill="#000" textLength="13.90" lengthAdjust="spacingAndGlyphs">2</text>
<line x1="574.40" y1="1430.30" x2="587.10" y2="1430.30" stroke="#000" stroke-width="2.90"/>
<text x="557.97" y="1438.70" font-size="25.00" fill="#000" textLength="13.90" lengthAdjust="spacingAndGlyphs">1</text>
<line x1="574.40" y1="1585.30" x2="587.10" y2="1585.30" stroke="#000" stroke-width="2.90"/>
<text x="554.30" y="1593.70" font-size="25.00" fill="#000" textLength="13.90" lengthAdjust="spacingAndGlyphs">0</text>
<circle cx="605.05" cy="1463.11" r="7.15" fill="#fff" stroke="#000" stroke-width="2.90"/>
<circle cx="599.45" cy="1466.61" r="7.15" fill="#fff" stroke="#000" stroke-width="2.90"/>
<circle cx="602.95" cy="1472.45" r="7.15" fill="#fff" stroke="#000" stroke-width="2.90"/>
<circle cx="602.95" cy="1493.46" r="7.15" fill="#fff" stroke="#000" stroke-width="2.90"/>
<circle cx="601.08" cy="1500.47" r="7.15" fill="#fff" stroke="#000" stroke-width="2.90"/>
<circle cx="606.92" cy="1502.80" r="7.15" fill="#fff" stroke="#000" stroke-width="2.90"/>
<circle cx="602.95" cy="1507.47" r="7.15" fill="#fff" stroke="#000" stroke-width="2.90"/>
<circle cx="602.95" cy="1513.31" r="7.15" fill="#fff" stroke="#000" stroke-width="2.90"/>
<circle cx="601.78" cy="1527.32" r="7.15" fill="#fff" stroke="#000" stroke-width="2.90"/>
<circle cx="629.10" cy="1372.04" r="7.15" fill="#fff" stroke="#000" stroke-width="2.90"/>
<circle cx="629.57" cy="1403.56" r="7.15" fill="#fff" stroke="#000" stroke-width="2.90"/>
<circle cx="625.60" cy="1409.87" r="7.15" fill="#fff" stroke="#000" stroke-width="2.90"/>
<circle cx="633.07" cy="1408.23" r="7.15" fill="#fff" stroke="#000" stroke-width="2.90"/>
<circle cx="629.10" cy="1445.59" r="7.15" fill="#fff" stroke="#000" stroke-width="2.90"/>
<circle cx="627.47" cy="1453.77" r="7.15" fill="#fff" stroke="#000" stroke-width="2.90"/>
<circle cx="629.10" cy="1472.45" r="7.15" fill="#fff" stroke="#000" stroke-width="2.90"/>
<circle cx="629.10" cy="1484.12" r="7.15" fill="#fff" stroke="#000" stroke-width="2.90"/>
<circle cx="629.10" cy="1495.80" r="7.15" fill="#fff" stroke="#000" stroke-width="2.90"/>
<circle cx="655.25" cy="1241.27" r="7.15" fill="#fff" stroke="#000" stroke-width="2.90"/>
<circle cx="655.25" cy="1260.65" r="7.15" fill="#fff" stroke="#000" stroke-width="2.90"/>
<circle cx="655.25" cy="1300.35" r="7.15" fill="#fff" stroke="#000" stroke-width="2.90"/>
<circle cx="657.12" cy="1312.49" r="7.15" fill="#fff" stroke="#000" stroke-width="2.90"/>
<circle cx="654.32" cy="1347.99" r="7.15" fill="#fff" stroke="#000" stroke-width="2.90"/>
<circle cx="657.12" cy="1360.36" r="7.15" fill="#fff" stroke="#000" stroke-width="2.90"/>
<circle cx="655.25" cy="1417.57" r="7.15" fill="#fff" stroke="#000" stroke-width="2.90"/>
<circle cx="655.25" cy="1431.58" r="7.15" fill="#fff" stroke="#000" stroke-width="2.90"/>
<circle cx="655.25" cy="1540.16" r="7.15" fill="#fff" stroke="#000" stroke-width="2.90"/>
<circle cx="681.64" cy="1272.80" r="7.15" fill="#fff" stroke="#000" stroke-width="2.90"/>
<circle cx="681.64" cy="1308.29" r="7.15" fill="#fff" stroke="#000" stroke-width="2.90"/>
<circle cx="681.64" cy="1334.21" r="7.15" fill="#fff" stroke="#000" stroke-width="2.90"/>
<circle cx="681.64" cy="1390.72" r="7.15" fill="#fff" stroke="#000" stroke-width="2.90"/>
<circle cx="681.64" cy="1428.08" r="7.15" fill="#fff" stroke="#000" stroke-width="2.90"/>
<circle cx="682.81" cy="1444.42" r="7.15" fill="#fff" stroke="#000" stroke-width="2.90"/>
<circle cx="679.31" cy="1457.27" r="7.15" fill="#fff" stroke="#000" stroke-width="2.90"/>
<circle cx="683.98" cy="1462.64" r="7.15" fill="#fff" stroke="#000" stroke-width="2.90"/>
<circle cx="681.64" cy="1477.58" r="7.15" fill="#fff" stroke="#000" stroke-width="2.90"/>
<circle cx="707.79" cy="1178.93" r="7.15" fill="#fff" stroke="#000" stroke-width="2.90"/>
<circle cx="707.79" cy="1263.46" r="7.15" fill="#fff" stroke="#000" stroke-width="2.90"/>
<circle cx="707.79" cy="1349.85" r="7.15" fill="#fff" stroke="#000" stroke-width="2.90"/>
<circle cx="707.79" cy="1390.25" r="7.15" fill="#fff" stroke="#000" stroke-width="2.90"/>
<circle cx="704.99" cy="1410.57" r="7.15" fill="#fff" stroke="#000" stroke-width="2.90"/>
<circle cx="710.83" cy="1413.37" r="7.15" fill="#fff" stroke="#000" stroke-width="2.90"/>
<circle cx="707.79" cy="1459.60" r="7.15" fill="#fff" stroke="#000" stroke-width="2.90"/>
<circle cx="707.33" cy="1463.57" r="7.15" fill="#fff" stroke="#000" stroke-width="2.90"/>
<text x="595.36" y="1133.60" font-size="25.00" fill="#000" font-style="italic" textLength="105.87" lengthAdjust="spacingAndGlyphs">P=0.0297</text>
<text x="829.79" y="1067.80" font-size="33.33" fill="#000" font-style="italic" textLength="66.88" lengthAdjust="spacingAndGlyphs">Tgfb</text>
<rect x="802.25" y="1548.57" width="14.70" height="36.73" fill="#fbdde0" stroke="#000" stroke-width="2.8"/>
<line x1="809.60" y1="1535.49" x2="809.60" y2="1558.84" stroke="#000" stroke-width="2.40"/>
<line x1="805.00" y1="1535.49" x2="814.20" y2="1535.49" stroke="#000" stroke-width="2.40"/>
<line x1="805.00" y1="1558.84" x2="814.20" y2="1558.84" stroke="#000" stroke-width="2.40"/>
<rect x="828.45" y="1531.06" width="14.70" height="54.24" fill="#f0989a" stroke="#000" stroke-width="2.8"/>
<line x1="835.80" y1="1515.65" x2="835.80" y2="1543.67" stroke="#000" stroke-width="2.40"/>
<line x1="831.20" y1="1515.65" x2="840.40" y2="1515.65" stroke="#000" stroke-width="2.40"/>
<line x1="831.20" y1="1543.67" x2="840.40" y2="1543.67" stroke="#000" stroke-width="2.40"/>
<rect x="854.55" y="1498.36" width="14.70" height="86.94" fill="#c4dbf2" stroke="#000" stroke-width="2.8"/>
<line x1="861.90" y1="1482.25" x2="861.90" y2="1511.68" stroke="#000" stroke-width="2.40"/>
<line x1="857.30" y1="1482.25" x2="866.50" y2="1482.25" stroke="#000" stroke-width="2.40"/>
<line x1="857.30" y1="1511.68" x2="866.50" y2="1511.68" stroke="#000" stroke-width="2.40"/>
<rect x="880.45" y="1475.01" width="14.70" height="110.29" fill="#8186c7" stroke="#000" stroke-width="2.8"/>
<line x1="887.80" y1="1431.12" x2="887.80" y2="1516.11" stroke="#000" stroke-width="2.40"/>
<line x1="883.20" y1="1431.12" x2="892.40" y2="1431.12" stroke="#000" stroke-width="2.40"/>
<line x1="883.20" y1="1516.11" x2="892.40" y2="1516.11" stroke="#000" stroke-width="2.40"/>
<rect x="906.65" y="1514.71" width="14.70" height="70.59" fill="#f8bc7d" stroke="#000" stroke-width="2.8"/>
<line x1="914.00" y1="1494.63" x2="914.00" y2="1531.99" stroke="#000" stroke-width="2.40"/>
<line x1="909.40" y1="1494.63" x2="918.60" y2="1494.63" stroke="#000" stroke-width="2.40"/>
<line x1="909.40" y1="1531.99" x2="918.60" y2="1531.99" stroke="#000" stroke-width="2.40"/>
<line x1="792.60" y1="1118.90" x2="792.60" y2="1586.70" stroke="#000" stroke-width="2.90"/>
<line x1="779.70" y1="1585.30" x2="933.80" y2="1585.30" stroke="#000" stroke-width="2.90"/>
<line x1="779.90" y1="1120.30" x2="792.60" y2="1120.30" stroke="#000" stroke-width="2.90"/>
<text x="759.93" y="1128.70" font-size="25.00" fill="#000" textLength="13.90" lengthAdjust="spacingAndGlyphs">8</text>
<line x1="779.90" y1="1236.60" x2="792.60" y2="1236.60" stroke="#000" stroke-width="2.90"/>
<text x="759.93" y="1245.00" font-size="25.00" fill="#000" textLength="13.90" lengthAdjust="spacingAndGlyphs">6</text>
<line x1="779.90" y1="1352.80" x2="792.60" y2="1352.80" stroke="#000" stroke-width="2.90"/>
<text x="759.55" y="1361.20" font-size="25.00" fill="#000" textLength="13.90" lengthAdjust="spacingAndGlyphs">4</text>
<line x1="779.90" y1="1469.00" x2="792.60" y2="1469.00" stroke="#000" stroke-width="2.90"/>
<text x="760.05" y="1477.40" font-size="25.00" fill="#000" textLength="13.90" lengthAdjust="spacingAndGlyphs">2</text>
<line x1="779.90" y1="1585.30" x2="792.60" y2="1585.30" stroke="#000" stroke-width="2.90"/>
<text x="759.80" y="1593.70" font-size="25.00" fill="#000" textLength="13.90" lengthAdjust="spacingAndGlyphs">0</text>
<circle cx="809.60" cy="1501.17" r="7.15" fill="#fff" stroke="#000" stroke-width="2.90"/>
<circle cx="807.73" cy="1534.33" r="7.15" fill="#fff" stroke="#000" stroke-width="2.90"/>
<circle cx="811.70" cy="1535.49" r="7.15" fill="#fff" stroke="#000" stroke-width="2.90"/>
<circle cx="809.60" cy="1541.33" r="7.15" fill="#fff" stroke="#000" stroke-width="2.90"/>
<circle cx="807.73" cy="1554.17" r="7.15" fill="#fff" stroke="#000" stroke-width="2.90"/>
<circle cx="811.24" cy="1561.18" r="7.15" fill="#fff" stroke="#000" stroke-width="2.90"/>
<circle cx="809.60" cy="1569.35" r="7.15" fill="#fff" stroke="#000" stroke-width="2.90"/>
<circle cx="809.60" cy="1577.52" r="7.15" fill="#fff" stroke="#000" stroke-width="2.90"/>
<circle cx="835.76" cy="1480.62" r="7.15" fill="#fff" stroke="#000" stroke-width="2.90"/>
<circle cx="835.76" cy="1508.64" r="7.15" fill="#fff" stroke="#000" stroke-width="2.90"/>
<circle cx="836.92" cy="1523.82" r="7.15" fill="#fff" stroke="#000" stroke-width="2.90"/>
<circle cx="833.89" cy="1528.49" r="7.15" fill="#fff" stroke="#000" stroke-width="2.90"/>
<circle cx="836.92" cy="1536.66" r="7.15" fill="#fff" stroke="#000" stroke-width="2.90"/>
<circle cx="836.92" cy="1546.00" r="7.15" fill="#fff" stroke="#000" stroke-width="2.90"/>
<circle cx="833.89" cy="1553.01" r="7.15" fill="#fff" stroke="#000" stroke-width="2.90"/>
<circle cx="835.76" cy="1567.02" r="7.15" fill="#fff" stroke="#000" stroke-width="2.90"/>
<circle cx="835.76" cy="1575.19" r="7.15" fill="#fff" stroke="#000" stroke-width="2.90"/>
<circle cx="861.91" cy="1429.25" r="7.15" fill="#fff" stroke="#000" stroke-width="2.90"/>
<circle cx="862.61" cy="1463.11" r="7.15" fill="#fff" stroke="#000" stroke-width="2.90"/>
<circle cx="860.27" cy="1468.94" r="7.15" fill="#fff" stroke="#000" stroke-width="2.90"/>
<circle cx="863.78" cy="1496.96" r="7.15" fill="#fff" stroke="#000" stroke-width="2.90"/>
<circle cx="859.11" cy="1501.63" r="7.15" fill="#fff" stroke="#000" stroke-width="2.90"/>
<circle cx="861.91" cy="1514.48" r="7.15" fill="#fff" stroke="#000" stroke-width="2.90"/>
<circle cx="862.61" cy="1519.15" r="7.15" fill="#fff" stroke="#000" stroke-width="2.90"/>
<circle cx="863.78" cy="1527.32" r="7.15" fill="#fff" stroke="#000" stroke-width="2.90"/>
<circle cx="860.27" cy="1534.33" r="7.15" fill="#fff" stroke="#000" stroke-width="2.90"/>
<circle cx="887.83" cy="1144.37" r="7.15" fill="#fff" stroke="#000" stroke-width="2.90"/>
<circle cx="887.83" cy="1459.60" r="7.15" fill="#fff" stroke="#000" stroke-width="2.90"/>
<circle cx="887.83" cy="1513.31" r="7.15" fill="#fff" stroke="#000" stroke-width="2.90"/>
<circle cx="884.79" cy="1517.98" r="7.15" fill="#fff" stroke="#000" stroke-width="2.90"/>
<circle cx="890.63" cy="1517.98" r="7.15" fill="#fff" stroke="#000" stroke-width="2.90"/>
<circle cx="887.83" cy="1521.48" r="7.15" fill="#fff" stroke="#000" stroke-width="2.90"/>
<circle cx="885.96" cy="1529.66" r="7.15" fill="#fff" stroke="#000" stroke-width="2.90"/>
<circle cx="889.46" cy="1531.99" r="7.15" fill="#fff" stroke="#000" stroke-width="2.90"/>
<circle cx="913.98" cy="1370.87" r="7.15" fill="#fff" stroke="#000" stroke-width="2.90"/>
<circle cx="913.98" cy="1484.12" r="7.15" fill="#fff" stroke="#000" stroke-width="2.90"/>
<circle cx="913.98" cy="1507.47" r="7.15" fill="#fff" stroke="#000" stroke-width="2.90"/>
<circle cx="911.65" cy="1517.98" r="7.15" fill="#fff" stroke="#000" stroke-width="2.90"/>
<circle cx="916.32" cy="1516.81" r="7.15" fill="#fff" stroke="#000" stroke-width="2.90"/>
<circle cx="913.98" cy="1531.99" r="7.15" fill="#fff" stroke="#000" stroke-width="2.90"/>
<circle cx="913.98" cy="1550.67" r="7.15" fill="#fff" stroke="#000" stroke-width="2.90"/>
<text x="813.45" y="1133.60" font-size="25.00" fill="#000" textLength="26.76" lengthAdjust="spacingAndGlyphs">ns</text>
<text x="1030.60" y="1067.80" font-size="33.33" fill="#000" font-style="italic" textLength="55.25" lengthAdjust="spacingAndGlyphs">Il10</text>
<rect x="1010.05" y="1411.15" width="14.70" height="174.15" fill="#fbdde0" stroke="#000" stroke-width="2.8"/>
<line x1="1017.40" y1="1386.17" x2="1017.40" y2="1433.33" stroke="#000" stroke-width="2.40"/>
<line x1="1012.80" y1="1386.17" x2="1022.00" y2="1386.17" stroke="#000" stroke-width="2.40"/>
<line x1="1012.80" y1="1433.33" x2="1022.00" y2="1433.33" stroke="#000" stroke-width="2.40"/>
<rect x="1035.95" y="1410.09" width="14.70" height="175.21" fill="#f0989a" stroke="#000" stroke-width="2.8"/>
<line x1="1043.30" y1="1384.05" x2="1043.30" y2="1429.89" stroke="#000" stroke-width="2.40"/>
<line x1="1038.70" y1="1384.05" x2="1047.90" y2="1384.05" stroke="#000" stroke-width="2.40"/>
<line x1="1038.70" y1="1429.89" x2="1047.90" y2="1429.89" stroke="#000" stroke-width="2.40"/>
<rect x="1061.65" y="1419.37" width="14.70" height="165.93" fill="#c4dbf2" stroke="#000" stroke-width="2.8"/>
<line x1="1069.00" y1="1394.12" x2="1069.00" y2="1441.81" stroke="#000" stroke-width="2.40"/>
<line x1="1064.40" y1="1394.12" x2="1073.60" y2="1394.12" stroke="#000" stroke-width="2.40"/>
<line x1="1064.40" y1="1441.81" x2="1073.60" y2="1441.81" stroke="#000" stroke-width="2.40"/>
<rect x="1087.65" y="1439.24" width="14.70" height="146.06" fill="#8186c7" stroke="#000" stroke-width="2.8"/>
<line x1="1095.00" y1="1424.59" x2="1095.00" y2="1451.09" stroke="#000" stroke-width="2.40"/>
<line x1="1090.40" y1="1424.59" x2="1099.60" y2="1424.59" stroke="#000" stroke-width="2.40"/>
<line x1="1090.40" y1="1451.09" x2="1099.60" y2="1451.09" stroke="#000" stroke-width="2.40"/>
<rect x="1113.65" y="1402.14" width="14.70" height="183.16" fill="#f8bc7d" stroke="#000" stroke-width="2.8"/>
<line x1="1121.00" y1="1361.00" x2="1121.00" y2="1440.49" stroke="#000" stroke-width="2.40"/>
<line x1="1116.40" y1="1361.00" x2="1125.60" y2="1361.00" stroke="#000" stroke-width="2.40"/>
<line x1="1116.40" y1="1440.49" x2="1125.60" y2="1440.49" stroke="#000" stroke-width="2.40"/>
<line x1="1000.70" y1="1118.90" x2="1000.70" y2="1586.70" stroke="#000" stroke-width="2.90"/>
<line x1="986.90" y1="1585.30" x2="1139.40" y2="1585.30" stroke="#000" stroke-width="2.90"/>
<line x1="988.00" y1="1120.30" x2="1000.70" y2="1120.30" stroke="#000" stroke-width="2.90"/>
<text x="968.03" y="1128.70" font-size="25.00" fill="#000" textLength="13.90" lengthAdjust="spacingAndGlyphs">3</text>
<line x1="988.00" y1="1275.30" x2="1000.70" y2="1275.30" stroke="#000" stroke-width="2.90"/>
<text x="968.15" y="1283.70" font-size="25.00" fill="#000" textLength="13.90" lengthAdjust="spacingAndGlyphs">2</text>
<line x1="988.00" y1="1430.30" x2="1000.70" y2="1430.30" stroke="#000" stroke-width="2.90"/>
<text x="971.57" y="1438.70" font-size="25.00" fill="#000" textLength="13.90" lengthAdjust="spacingAndGlyphs">1</text>
<line x1="988.00" y1="1585.30" x2="1000.70" y2="1585.30" stroke="#000" stroke-width="2.90"/>
<text x="967.90" y="1593.70" font-size="25.00" fill="#000" textLength="13.90" lengthAdjust="spacingAndGlyphs">0</text>
<circle cx="1019.49" cy="1327.87" r="7.15" fill="#fff" stroke="#000" stroke-width="2.90"/>
<circle cx="1015.51" cy="1335.82" r="7.15" fill="#fff" stroke="#000" stroke-width="2.90"/>
<circle cx="1017.37" cy="1350.40" r="7.15" fill="#fff" stroke="#000" stroke-width="2.90"/>
<circle cx="1018.16" cy="1384.05" r="7.15" fill="#fff" stroke="#000" stroke-width="2.90"/>
<circle cx="1015.51" cy="1394.12" r="7.15" fill="#fff" stroke="#000" stroke-width="2.90"/>
<circle cx="1017.37" cy="1409.49" r="7.15" fill="#fff" stroke="#000" stroke-width="2.90"/>
<circle cx="1015.51" cy="1477.58" r="7.15" fill="#fff" stroke="#000" stroke-width="2.90"/>
<circle cx="1020.28" cy="1478.91" r="7.15" fill="#fff" stroke="#000" stroke-width="2.90"/>
<circle cx="1017.37" cy="1534.02" r="7.15" fill="#fff" stroke="#000" stroke-width="2.90"/>
<circle cx="1043.33" cy="1258.98" r="7.15" fill="#fff" stroke="#000" stroke-width="2.90"/>
<circle cx="1041.21" cy="1376.89" r="7.15" fill="#fff" stroke="#000" stroke-width="2.90"/>
<circle cx="1046.51" cy="1375.57" r="7.15" fill="#fff" stroke="#000" stroke-width="2.90"/>
<circle cx="1045.19" cy="1406.04" r="7.15" fill="#fff" stroke="#000" stroke-width="2.90"/>
<circle cx="1039.89" cy="1408.69" r="7.15" fill="#fff" stroke="#000" stroke-width="2.90"/>
<circle cx="1043.33" cy="1413.99" r="7.15" fill="#fff" stroke="#000" stroke-width="2.90"/>
<circle cx="1043.33" cy="1459.04" r="7.15" fill="#fff" stroke="#000" stroke-width="2.90"/>
<circle cx="1043.33" cy="1474.93" r="7.15" fill="#fff" stroke="#000" stroke-width="2.90"/>
<circle cx="1043.33" cy="1494.81" r="7.15" fill="#fff" stroke="#000" stroke-width="2.90"/>
<circle cx="1069.04" cy="1396.24" r="7.15" fill="#fff" stroke="#000" stroke-width="2.90"/>
<circle cx="1070.36" cy="1400.74" r="7.15" fill="#fff" stroke="#000" stroke-width="2.90"/>
<circle cx="1066.39" cy="1410.02" r="7.15" fill="#fff" stroke="#000" stroke-width="2.90"/>
<circle cx="1071.69" cy="1415.32" r="7.15" fill="#fff" stroke="#000" stroke-width="2.90"/>
<circle cx="1067.71" cy="1415.85" r="7.15" fill="#fff" stroke="#000" stroke-width="2.90"/>
<circle cx="1065.06" cy="1424.59" r="7.15" fill="#fff" stroke="#000" stroke-width="2.90"/>
<circle cx="1069.04" cy="1431.21" r="7.15" fill="#fff" stroke="#000" stroke-width="2.90"/>
<circle cx="1069.04" cy="1540.38" r="7.15" fill="#fff" stroke="#000" stroke-width="2.90"/>
<circle cx="1095.00" cy="1372.13" r="7.15" fill="#fff" stroke="#000" stroke-width="2.90"/>
<circle cx="1095.00" cy="1396.77" r="7.15" fill="#fff" stroke="#000" stroke-width="2.90"/>
<circle cx="1095.00" cy="1424.59" r="7.15" fill="#fff" stroke="#000" stroke-width="2.90"/>
<circle cx="1096.86" cy="1455.06" r="7.15" fill="#fff" stroke="#000" stroke-width="2.90"/>
<circle cx="1095.00" cy="1457.71" r="7.15" fill="#fff" stroke="#000" stroke-width="2.90"/>
<circle cx="1092.88" cy="1463.01" r="7.15" fill="#fff" stroke="#000" stroke-width="2.90"/>
<circle cx="1098.18" cy="1464.33" r="7.15" fill="#fff" stroke="#000" stroke-width="2.90"/>
<circle cx="1095.00" cy="1484.21" r="7.15" fill="#fff" stroke="#000" stroke-width="2.90"/>
<circle cx="1120.97" cy="1147.69" r="7.15" fill="#fff" stroke="#000" stroke-width="2.90"/>
<circle cx="1120.97" cy="1286.01" r="7.15" fill="#fff" stroke="#000" stroke-width="2.90"/>
<circle cx="1120.97" cy="1346.95" r="7.15" fill="#fff" stroke="#000" stroke-width="2.90"/>
<circle cx="1120.97" cy="1447.11" r="7.15" fill="#fff" stroke="#000" stroke-width="2.90"/>
<circle cx="1120.97" cy="1456.39" r="7.15" fill="#fff" stroke="#000" stroke-width="2.90"/>
<circle cx="1122.03" cy="1470.96" r="7.15" fill="#fff" stroke="#000" stroke-width="2.90"/>
<circle cx="1119.38" cy="1474.93" r="7.15" fill="#fff" stroke="#000" stroke-width="2.90"/>
<circle cx="1123.35" cy="1481.56" r="7.15" fill="#fff" stroke="#000" stroke-width="2.90"/>
<circle cx="1120.18" cy="1492.16" r="7.15" fill="#fff" stroke="#000" stroke-width="2.90"/>
<text x="1016.72" y="1134.00" font-size="25.00" fill="#000" textLength="27.32" lengthAdjust="spacingAndGlyphs">ns</text>
<text x="1272.56" y="1067.80" font-size="33.33" fill="#000" font-style="italic" textLength="70.77" lengthAdjust="spacingAndGlyphs">Il12b</text>
<rect x="1249.85" y="1376.97" width="14.70" height="208.33" fill="#fbdde0" stroke="#000" stroke-width="2.8"/>
<line x1="1257.20" y1="1343.77" x2="1257.20" y2="1407.37" stroke="#000" stroke-width="2.40"/>
<line x1="1252.60" y1="1343.77" x2="1261.80" y2="1343.77" stroke="#000" stroke-width="2.40"/>
<line x1="1252.60" y1="1407.37" x2="1261.80" y2="1407.37" stroke="#000" stroke-width="2.40"/>
<rect x="1275.75" y="1383.59" width="14.70" height="201.71" fill="#f0989a" stroke="#000" stroke-width="2.8"/>
<line x1="1283.10" y1="1367.62" x2="1283.10" y2="1396.77" stroke="#000" stroke-width="2.40"/>
<line x1="1278.50" y1="1367.62" x2="1287.70" y2="1367.62" stroke="#000" stroke-width="2.40"/>
<line x1="1278.50" y1="1396.77" x2="1287.70" y2="1396.77" stroke="#000" stroke-width="2.40"/>
<rect x="1301.45" y="1361.60" width="14.70" height="223.70" fill="#c4dbf2" stroke="#000" stroke-width="2.8"/>
<line x1="1308.80" y1="1329.99" x2="1308.80" y2="1390.41" stroke="#000" stroke-width="2.40"/>
<line x1="1304.20" y1="1329.99" x2="1313.40" y2="1329.99" stroke="#000" stroke-width="2.40"/>
<line x1="1304.20" y1="1390.41" x2="1313.40" y2="1390.41" stroke="#000" stroke-width="2.40"/>
<rect x="1327.75" y="1415.39" width="14.70" height="169.91" fill="#8186c7" stroke="#000" stroke-width="2.8"/>
<line x1="1335.10" y1="1387.49" x2="1335.10" y2="1437.84" stroke="#000" stroke-width="2.40"/>
<line x1="1330.50" y1="1387.49" x2="1339.70" y2="1387.49" stroke="#000" stroke-width="2.40"/>
<line x1="1330.50" y1="1437.84" x2="1339.70" y2="1437.84" stroke="#000" stroke-width="2.40"/>
<rect x="1353.65" y="1371.67" width="14.70" height="213.63" fill="#f8bc7d" stroke="#000" stroke-width="2.8"/>
<line x1="1361.00" y1="1323.90" x2="1361.00" y2="1413.99" stroke="#000" stroke-width="2.40"/>
<line x1="1356.40" y1="1323.90" x2="1365.60" y2="1323.90" stroke="#000" stroke-width="2.40"/>
<line x1="1356.40" y1="1413.99" x2="1365.60" y2="1413.99" stroke="#000" stroke-width="2.40"/>
<line x1="1240.50" y1="1118.90" x2="1240.50" y2="1586.70" stroke="#000" stroke-width="2.90"/>
<line x1="1226.70" y1="1585.30" x2="1379.60" y2="1585.30" stroke="#000" stroke-width="2.90"/>
<line x1="1227.80" y1="1120.30" x2="1240.50" y2="1120.30" stroke="#000" stroke-width="2.90"/>
<text x="1186.95" y="1128.70" font-size="25.00" fill="#000" textLength="34.75" lengthAdjust="spacingAndGlyphs">2.5</text>
<line x1="1227.80" y1="1213.30" x2="1240.50" y2="1213.30" stroke="#000" stroke-width="2.90"/>
<text x="1186.83" y="1221.70" font-size="25.00" fill="#000" textLength="34.75" lengthAdjust="spacingAndGlyphs">2.0</text>
<line x1="1227.80" y1="1306.30" x2="1240.50" y2="1306.30" stroke="#000" stroke-width="2.90"/>
<text x="1186.95" y="1314.70" font-size="25.00" fill="#000" textLength="34.75" lengthAdjust="spacingAndGlyphs">1.5</text>
<line x1="1227.80" y1="1399.30" x2="1240.50" y2="1399.30" stroke="#000" stroke-width="2.90"/>
<text x="1186.83" y="1407.70" font-size="25.00" fill="#000" textLength="34.75" lengthAdjust="spacingAndGlyphs">1.0</text>
<line x1="1227.80" y1="1492.30" x2="1240.50" y2="1492.30" stroke="#000" stroke-width="2.90"/>
<text x="1186.95" y="1500.70" font-size="25.00" fill="#000" textLength="34.75" lengthAdjust="spacingAndGlyphs">0.5</text>
<line x1="1227.80" y1="1585.30" x2="1240.50" y2="1585.30" stroke="#000" stroke-width="2.90"/>
<text x="1186.83" y="1593.70" font-size="25.00" fill="#000" textLength="34.75" lengthAdjust="spacingAndGlyphs">0.0</text>
<circle cx="1257.17" cy="1234.61" r="7.15" fill="#fff" stroke="#000" stroke-width="2.90"/>
<circle cx="1254.52" cy="1307.47" r="7.15" fill="#fff" stroke="#000" stroke-width="2.90"/>
<circle cx="1259.02" cy="1314.10" r="7.15" fill="#fff" stroke="#000" stroke-width="2.90"/>
<circle cx="1257.17" cy="1402.07" r="7.15" fill="#fff" stroke="#000" stroke-width="2.90"/>
<circle cx="1254.52" cy="1416.64" r="7.15" fill="#fff" stroke="#000" stroke-width="2.90"/>
<circle cx="1258.49" cy="1419.29" r="7.15" fill="#fff" stroke="#000" stroke-width="2.90"/>
<circle cx="1257.17" cy="1437.84" r="7.15" fill="#fff" stroke="#000" stroke-width="2.90"/>
<circle cx="1257.17" cy="1531.37" r="7.15" fill="#fff" stroke="#000" stroke-width="2.90"/>
<circle cx="1283.13" cy="1328.40" r="7.15" fill="#fff" stroke="#000" stroke-width="2.90"/>
<circle cx="1283.13" cy="1341.65" r="7.15" fill="#fff" stroke="#000" stroke-width="2.90"/>
<circle cx="1283.13" cy="1362.32" r="7.15" fill="#fff" stroke="#000" stroke-width="2.90"/>
<circle cx="1281.01" cy="1379.54" r="7.15" fill="#fff" stroke="#000" stroke-width="2.90"/>
<circle cx="1284.99" cy="1377.69" r="7.15" fill="#fff" stroke="#000" stroke-width="2.90"/>
<circle cx="1283.13" cy="1391.47" r="7.15" fill="#fff" stroke="#000" stroke-width="2.90"/>
<circle cx="1283.13" cy="1413.99" r="7.15" fill="#fff" stroke="#000" stroke-width="2.90"/>
<circle cx="1279.69" cy="1429.89" r="7.15" fill="#fff" stroke="#000" stroke-width="2.90"/>
<circle cx="1284.99" cy="1428.56" r="7.15" fill="#fff" stroke="#000" stroke-width="2.90"/>
<circle cx="1308.83" cy="1244.41" r="7.15" fill="#fff" stroke="#000" stroke-width="2.90"/>
<circle cx="1308.83" cy="1258.98" r="7.15" fill="#fff" stroke="#000" stroke-width="2.90"/>
<circle cx="1308.83" cy="1305.35" r="7.15" fill="#fff" stroke="#000" stroke-width="2.90"/>
<circle cx="1308.83" cy="1339.80" r="7.15" fill="#fff" stroke="#000" stroke-width="2.90"/>
<circle cx="1311.48" cy="1371.60" r="7.15" fill="#fff" stroke="#000" stroke-width="2.90"/>
<circle cx="1306.18" cy="1379.54" r="7.15" fill="#fff" stroke="#000" stroke-width="2.90"/>
<circle cx="1308.83" cy="1426.44" r="7.15" fill="#fff" stroke="#000" stroke-width="2.90"/>
<circle cx="1308.83" cy="1523.16" r="7.15" fill="#fff" stroke="#000" stroke-width="2.90"/>
<circle cx="1335.07" cy="1278.33" r="7.15" fill="#fff" stroke="#000" stroke-width="2.90"/>
<circle cx="1335.07" cy="1343.24" r="7.15" fill="#fff" stroke="#000" stroke-width="2.90"/>
<circle cx="1332.68" cy="1375.57" r="7.15" fill="#fff" stroke="#000" stroke-width="2.90"/>
<circle cx="1337.45" cy="1378.75" r="7.15" fill="#fff" stroke="#000" stroke-width="2.90"/>
<circle cx="1332.68" cy="1449.76" r="7.15" fill="#fff" stroke="#000" stroke-width="2.90"/>
<circle cx="1336.66" cy="1449.76" r="7.15" fill="#fff" stroke="#000" stroke-width="2.90"/>
<circle cx="1332.68" cy="1468.31" r="7.15" fill="#fff" stroke="#000" stroke-width="2.90"/>
<circle cx="1336.66" cy="1470.16" r="7.15" fill="#fff" stroke="#000" stroke-width="2.90"/>
<circle cx="1335.07" cy="1504.61" r="7.15" fill="#fff" stroke="#000" stroke-width="2.90"/>
<circle cx="1363.15" cy="1185.59" r="7.15" fill="#fff" stroke="#000" stroke-width="2.90"/>
<circle cx="1358.38" cy="1191.41" r="7.15" fill="#fff" stroke="#000" stroke-width="2.90"/>
<circle cx="1361.03" cy="1202.81" r="7.15" fill="#fff" stroke="#000" stroke-width="2.90"/>
<circle cx="1361.03" cy="1392.26" r="7.15" fill="#fff" stroke="#000" stroke-width="2.90"/>
<circle cx="1361.03" cy="1441.28" r="7.15" fill="#fff" stroke="#000" stroke-width="2.90"/>
<circle cx="1362.36" cy="1466.98" r="7.15" fill="#fff" stroke="#000" stroke-width="2.90"/>
<circle cx="1362.36" cy="1478.91" r="7.15" fill="#fff" stroke="#000" stroke-width="2.90"/>
<circle cx="1358.38" cy="1489.51" r="7.15" fill="#fff" stroke="#000" stroke-width="2.90"/>
<text x="1250.56" y="1134.00" font-size="25.00" fill="#000" textLength="26.65" lengthAdjust="spacingAndGlyphs">ns</text>
<text x="1510.50" y="1067.80" font-size="33.33" fill="#000" font-style="italic" textLength="36.06" lengthAdjust="spacingAndGlyphs">Il6</text>
<rect x="1466.15" y="1285.30" width="14.70" height="300.00" fill="#fbdde0" stroke="#000" stroke-width="2.8"/>
<line x1="1473.50" y1="1258.73" x2="1473.50" y2="1310.40" stroke="#000" stroke-width="2.40"/>
<line x1="1468.90" y1="1258.73" x2="1478.10" y2="1258.73" stroke="#000" stroke-width="2.40"/>
<line x1="1468.90" y1="1310.40" x2="1478.10" y2="1310.40" stroke="#000" stroke-width="2.40"/>
<rect x="1491.85" y="1352.87" width="14.70" height="232.43" fill="#f0989a" stroke="#000" stroke-width="2.8"/>
<line x1="1499.20" y1="1328.95" x2="1499.20" y2="1373.99" stroke="#000" stroke-width="2.40"/>
<line x1="1494.60" y1="1328.95" x2="1503.80" y2="1328.95" stroke="#000" stroke-width="2.40"/>
<line x1="1494.60" y1="1373.99" x2="1503.80" y2="1373.99" stroke="#000" stroke-width="2.40"/>
<rect x="1518.35" y="1350.22" width="14.70" height="235.08" fill="#c4dbf2" stroke="#000" stroke-width="2.8"/>
<line x1="1525.70" y1="1325.77" x2="1525.70" y2="1370.55" stroke="#000" stroke-width="2.40"/>
<line x1="1521.10" y1="1325.77" x2="1530.30" y2="1325.77" stroke="#000" stroke-width="2.40"/>
<line x1="1521.10" y1="1370.55" x2="1530.30" y2="1370.55" stroke="#000" stroke-width="2.40"/>
<rect x="1543.75" y="1450.91" width="14.70" height="134.39" fill="#8186c7" stroke="#000" stroke-width="2.8"/>
<line x1="1551.10" y1="1439.70" x2="1551.10" y2="1459.31" stroke="#000" stroke-width="2.40"/>
<line x1="1546.50" y1="1439.70" x2="1555.70" y2="1439.70" stroke="#000" stroke-width="2.40"/>
<line x1="1546.50" y1="1459.31" x2="1555.70" y2="1459.31" stroke="#000" stroke-width="2.40"/>
<rect x="1569.95" y="1446.93" width="14.70" height="138.37" fill="#f8bc7d" stroke="#000" stroke-width="2.8"/>
<line x1="1577.30" y1="1420.89" x2="1577.30" y2="1470.17" stroke="#000" stroke-width="2.40"/>
<line x1="1572.70" y1="1420.89" x2="1581.90" y2="1420.89" stroke="#000" stroke-width="2.40"/>
<line x1="1572.70" y1="1470.17" x2="1581.90" y2="1470.17" stroke="#000" stroke-width="2.40"/>
<line x1="1456.20" y1="1118.90" x2="1456.20" y2="1586.70" stroke="#000" stroke-width="2.90"/>
<line x1="1443.00" y1="1585.30" x2="1596.10" y2="1585.30" stroke="#000" stroke-width="2.90"/>
<line x1="1443.50" y1="1120.30" x2="1456.20" y2="1120.30" stroke="#000" stroke-width="2.90"/>
<text x="1402.65" y="1128.70" font-size="25.00" fill="#000" textLength="34.75" lengthAdjust="spacingAndGlyphs">2.5</text>
<line x1="1443.50" y1="1213.30" x2="1456.20" y2="1213.30" stroke="#000" stroke-width="2.90"/>
<text x="1402.53" y="1221.70" font-size="25.00" fill="#000" textLength="34.75" lengthAdjust="spacingAndGlyphs">2.0</text>
<line x1="1443.50" y1="1306.30" x2="1456.20" y2="1306.30" stroke="#000" stroke-width="2.90"/>
<text x="1402.65" y="1314.70" font-size="25.00" fill="#000" textLength="34.75" lengthAdjust="spacingAndGlyphs">1.5</text>
<line x1="1443.50" y1="1399.30" x2="1456.20" y2="1399.30" stroke="#000" stroke-width="2.90"/>
<text x="1402.53" y="1407.70" font-size="25.00" fill="#000" textLength="34.75" lengthAdjust="spacingAndGlyphs">1.0</text>
<line x1="1443.50" y1="1492.30" x2="1456.20" y2="1492.30" stroke="#000" stroke-width="2.90"/>
<text x="1402.65" y="1500.70" font-size="25.00" fill="#000" textLength="34.75" lengthAdjust="spacingAndGlyphs">0.5</text>
<line x1="1443.50" y1="1585.30" x2="1456.20" y2="1585.30" stroke="#000" stroke-width="2.90"/>
<text x="1402.53" y="1593.70" font-size="25.00" fill="#000" textLength="34.75" lengthAdjust="spacingAndGlyphs">0.0</text>
<circle cx="1473.47" cy="1154.86" r="7.15" fill="#fff" stroke="#000" stroke-width="2.90"/>
<circle cx="1473.47" cy="1203.08" r="7.15" fill="#fff" stroke="#000" stroke-width="2.90"/>
<circle cx="1473.47" cy="1247.60" r="7.15" fill="#fff" stroke="#000" stroke-width="2.90"/>
<circle cx="1474.79" cy="1264.03" r="7.15" fill="#fff" stroke="#000" stroke-width="2.90"/>
<circle cx="1470.82" cy="1273.30" r="7.15" fill="#fff" stroke="#000" stroke-width="2.90"/>
<circle cx="1475.32" cy="1279.93" r="7.15" fill="#fff" stroke="#000" stroke-width="2.90"/>
<circle cx="1471.61" cy="1293.70" r="7.15" fill="#fff" stroke="#000" stroke-width="2.90"/>
<circle cx="1473.47" cy="1321.00" r="7.15" fill="#fff" stroke="#000" stroke-width="2.90"/>
<circle cx="1473.47" cy="1491.90" r="7.15" fill="#fff" stroke="#000" stroke-width="2.90"/>
<circle cx="1498.11" cy="1275.95" r="7.15" fill="#fff" stroke="#000" stroke-width="2.90"/>
<circle cx="1501.29" cy="1285.23" r="7.15" fill="#fff" stroke="#000" stroke-width="2.90"/>
<circle cx="1495.99" cy="1295.82" r="7.15" fill="#fff" stroke="#000" stroke-width="2.90"/>
<circle cx="1500.76" cy="1303.77" r="7.15" fill="#fff" stroke="#000" stroke-width="2.90"/>
<circle cx="1499.17" cy="1350.94" r="7.15" fill="#fff" stroke="#000" stroke-width="2.90"/>
<circle cx="1499.17" cy="1364.72" r="7.15" fill="#fff" stroke="#000" stroke-width="2.90"/>
<circle cx="1499.17" cy="1400.49" r="7.15" fill="#fff" stroke="#000" stroke-width="2.90"/>
<circle cx="1499.17" cy="1423.54" r="7.15" fill="#fff" stroke="#000" stroke-width="2.90"/>
<circle cx="1499.17" cy="1462.76" r="7.15" fill="#fff" stroke="#000" stroke-width="2.90"/>
<circle cx="1527.78" cy="1278.60" r="7.15" fill="#fff" stroke="#000" stroke-width="2.90"/>
<circle cx="1523.81" cy="1281.25" r="7.15" fill="#fff" stroke="#000" stroke-width="2.90"/>
<circle cx="1525.67" cy="1299.80" r="7.15" fill="#fff" stroke="#000" stroke-width="2.90"/>
<circle cx="1525.67" cy="1314.37" r="7.15" fill="#fff" stroke="#000" stroke-width="2.90"/>
<circle cx="1523.02" cy="1337.69" r="7.15" fill="#fff" stroke="#000" stroke-width="2.90"/>
<circle cx="1527.78" cy="1346.70" r="7.15" fill="#fff" stroke="#000" stroke-width="2.90"/>
<circle cx="1525.67" cy="1384.59" r="7.15" fill="#fff" stroke="#000" stroke-width="2.90"/>
<circle cx="1525.67" cy="1429.63" r="7.15" fill="#fff" stroke="#000" stroke-width="2.90"/>
<circle cx="1525.67" cy="1471.50" r="7.15" fill="#fff" stroke="#000" stroke-width="2.90"/>
<circle cx="1551.10" cy="1370.02" r="7.15" fill="#fff" stroke="#000" stroke-width="2.90"/>
<circle cx="1551.10" cy="1382.73" r="7.15" fill="#fff" stroke="#000" stroke-width="2.90"/>
<circle cx="1551.10" cy="1449.51" r="7.15" fill="#fff" stroke="#000" stroke-width="2.90"/>
<circle cx="1548.98" cy="1454.81" r="7.15" fill="#fff" stroke="#000" stroke-width="2.90"/>
<circle cx="1551.10" cy="1464.88" r="7.15" fill="#fff" stroke="#000" stroke-width="2.90"/>
<circle cx="1551.10" cy="1473.35" r="7.15" fill="#fff" stroke="#000" stroke-width="2.90"/>
<circle cx="1551.10" cy="1498.53" r="7.15" fill="#fff" stroke="#000" stroke-width="2.90"/>
<circle cx="1552.96" cy="1505.15" r="7.15" fill="#fff" stroke="#000" stroke-width="2.90"/>
<circle cx="1548.98" cy="1508.60" r="7.15" fill="#fff" stroke="#000" stroke-width="2.90"/>
<circle cx="1577.33" cy="1292.11" r="7.15" fill="#fff" stroke="#000" stroke-width="2.90"/>
<circle cx="1577.33" cy="1387.24" r="7.15" fill="#fff" stroke="#000" stroke-width="2.90"/>
<circle cx="1577.33" cy="1406.58" r="7.15" fill="#fff" stroke="#000" stroke-width="2.90"/>
<circle cx="1577.33" cy="1464.61" r="7.15" fill="#fff" stroke="#000" stroke-width="2.90"/>
<circle cx="1574.15" cy="1478.65" r="7.15" fill="#fff" stroke="#000" stroke-width="2.90"/>
<circle cx="1579.45" cy="1478.12" r="7.15" fill="#fff" stroke="#000" stroke-width="2.90"/>
<circle cx="1577.33" cy="1487.93" r="7.15" fill="#fff" stroke="#000" stroke-width="2.90"/>
<circle cx="1579.45" cy="1502.50" r="7.15" fill="#fff" stroke="#000" stroke-width="2.90"/>
<circle cx="1575.48" cy="1510.45" r="7.15" fill="#fff" stroke="#000" stroke-width="2.90"/>
<text x="1459.55" y="1137.30" font-size="25.00" fill="#000" font-style="italic" textLength="108.17" lengthAdjust="spacingAndGlyphs">P=0.0050</text>
<text x="1640.36" y="1101.80" font-size="25.00" fill="#000" textLength="127.62" lengthAdjust="spacingAndGlyphs">h post sync</text>
<rect x="1689.00" y="1141.70" width="15.60" height="9.20" fill="#fbdde0" stroke="#000" stroke-width="2.8" stroke-linejoin="round"/>
<text x="1725.86" y="1158.20" font-size="33.33" fill="#000" textLength="38.20" lengthAdjust="spacingAndGlyphs">18</text>
<rect x="1689.00" y="1183.70" width="15.60" height="9.20" fill="#f0989a" stroke="#000" stroke-width="2.8" stroke-linejoin="round"/>
<text x="1728.01" y="1200.50" font-size="33.33" fill="#000" textLength="35.47" lengthAdjust="spacingAndGlyphs">24</text>
<rect x="1689.00" y="1225.90" width="15.60" height="9.20" fill="#c4dbf2" stroke="#000" stroke-width="2.8" stroke-linejoin="round"/>
<text x="1728.49" y="1242.70" font-size="33.33" fill="#000" textLength="35.30" lengthAdjust="spacingAndGlyphs">30</text>
<rect x="1689.00" y="1268.10" width="15.60" height="9.20" fill="#8186c7" stroke="#000" stroke-width="2.8" stroke-linejoin="round"/>
<text x="1728.48" y="1285.00" font-size="33.33" fill="#000" textLength="35.47" lengthAdjust="spacingAndGlyphs">36</text>
<rect x="1689.00" y="1309.80" width="15.60" height="9.20" fill="#f8bc7d" stroke="#000" stroke-width="2.8" stroke-linejoin="round"/>
<text x="1728.97" y="1326.60" font-size="33.33" fill="#000" textLength="35.13" lengthAdjust="spacingAndGlyphs">42</text>
<text x="0.89" y="1724.40" font-size="37.50" fill="#000" font-weight="bold">e</text>
<rect x="56.00" y="1995.00" width="1287.00" height="8.50" fill="#f6f6f6"/>
<rect x="60.00" y="1833.00" width="1280.60" height="160.70" fill="#fff" stroke="#b9b9b9" stroke-width="1.80"/>
<line x1="183.50" y1="1834.00" x2="183.50" y2="1993.00" stroke="#e4e4e4" stroke-width="2.30"/>
<line x1="305.20" y1="1834.00" x2="305.20" y2="1993.00" stroke="#e4e4e4" stroke-width="2.30"/>
<line x1="426.60" y1="1834.00" x2="426.60" y2="1993.00" stroke="#e4e4e4" stroke-width="2.30"/>
<line x1="548.40" y1="1834.00" x2="548.40" y2="1993.00" stroke="#e4e4e4" stroke-width="2.30"/>
<line x1="670.20" y1="1834.00" x2="670.20" y2="1993.00" stroke="#e4e4e4" stroke-width="2.30"/>
<line x1="792.30" y1="1834.00" x2="792.30" y2="1993.00" stroke="#e4e4e4" stroke-width="2.30"/>
<line x1="914.00" y1="1834.00" x2="914.00" y2="1993.00" stroke="#e4e4e4" stroke-width="2.30"/>
<line x1="1035.80" y1="1834.00" x2="1035.80" y2="1993.00" stroke="#e4e4e4" stroke-width="2.30"/>
<line x1="1157.60" y1="1834.00" x2="1157.60" y2="1993.00" stroke="#e4e4e4" stroke-width="2.30"/>
<line x1="1279.80" y1="1834.00" x2="1279.80" y2="1993.00" stroke="#e4e4e4" stroke-width="2.30"/>
<text x="60.86" y="1992.30" font-size="18.50" fill="#d6d6d6" font-weight="bold" textLength="20.32" lengthAdjust="spacingAndGlyphs">00</text>
<rect x="1278.30" y="1898.40" width="62.30" height="31.60" fill="#c5c8e8"/>
<line x1="61.00" y1="1914.70" x2="1279.00" y2="1914.70" stroke="#000" stroke-width="3.80"/>
<line x1="1279.00" y1="1914.70" x2="1340.60" y2="1914.70" stroke="#10103a" stroke-width="3.80"/>
<path d="M1278.2,1915 V1898.2 H1303" fill="none" stroke="#10103a" stroke-width="2"/>
<path d="M1301.3,1889.4 L1310.8,1898.3 L1301.3,1907.3 Z" fill="#10103a"/>
<rect x="202.60" y="1907.00" width="6.00" height="15.60" fill="#e0222a" stroke="#5a0a0a" stroke-width="1.30"/>
<rect x="279.30" y="1907.00" width="6.00" height="15.60" fill="#e0222a" stroke="#5a0a0a" stroke-width="1.30"/>
<rect x="349.80" y="1907.00" width="6.00" height="15.60" fill="#e0222a" stroke="#5a0a0a" stroke-width="1.30"/>
<rect x="418.40" y="1907.00" width="6.00" height="15.60" fill="#e0222a" stroke="#5a0a0a" stroke-width="1.30"/>
<rect x="1015.90" y="1907.00" width="6.00" height="15.60" fill="#e0222a" stroke="#5a0a0a" stroke-width="1.30"/>
<rect x="181.50" y="1935.20" width="41.50" height="16.20" fill="#1c3f9f"/>
<text x="123.53" y="1863.50" font-size="33.33" fill="#1f3b94" textLength="195.04" lengthAdjust="spacingAndGlyphs">Target region</text>
<text x="137.19" y="1994.20" font-size="23.60" fill="#000" textLength="70.75" lengthAdjust="spacingAndGlyphs">-1800</text>
<text x="268.28" y="1994.20" font-size="23.60" fill="#000" textLength="71.47" lengthAdjust="spacingAndGlyphs">-1600</text>
<text x="389.18" y="1994.20" font-size="23.60" fill="#000" textLength="71.58" lengthAdjust="spacingAndGlyphs">-1400</text>
<text x="516.18" y="1994.20" font-size="23.60" fill="#000" textLength="71.58" lengthAdjust="spacingAndGlyphs">-1200</text>
<text x="633.20" y="1994.20" font-size="23.60" fill="#000" textLength="70.13" lengthAdjust="spacingAndGlyphs">-1000</text>
<text x="753.69" y="1994.20" font-size="23.60" fill="#000" textLength="55.73" lengthAdjust="spacingAndGlyphs">-800</text>
<text x="879.49" y="1994.20" font-size="23.60" fill="#000" textLength="55.73" lengthAdjust="spacingAndGlyphs">-600</text>
<text x="1006.49" y="1994.20" font-size="23.60" fill="#000" textLength="55.73" lengthAdjust="spacingAndGlyphs">-400</text>
<text x="1128.69" y="1994.20" font-size="23.60" fill="#000" textLength="55.73" lengthAdjust="spacingAndGlyphs">-200</text>
<text x="1269.94" y="1994.20" font-size="23.60" fill="#000" textLength="15.25" lengthAdjust="spacingAndGlyphs">0</text>
<text x="52.60" y="2140.20" font-size="33.33" fill="#000" textLength="808.50" lengthAdjust="spacingAndGlyphs">Arntl [p-value=0.001]: -1769, -1643, -1525, -1413, -431</text>
<text x="1390.94" y="1718.40" font-size="37.50" fill="#000" font-weight="bold">f</text>
<text x="1558.72" y="1746.50" font-size="33.33" fill="#000" font-style="italic" textLength="69.29" lengthAdjust="spacingAndGlyphs">Per2</text>
<rect x="1466.40" y="1981.20" width="15.20" height="229.50" fill="#f09a9a" stroke="#000" stroke-width="2.8"/>
<line x1="1474.00" y1="1917.80" x2="1474.00" y2="2041.90" stroke="#000" stroke-width="2.40"/>
<line x1="1469.40" y1="1917.80" x2="1478.60" y2="1917.80" stroke="#000" stroke-width="2.40"/>
<line x1="1469.40" y1="2041.90" x2="1478.60" y2="2041.90" stroke="#000" stroke-width="2.40"/>
<rect x="1496.00" y="2093.60" width="15.20" height="117.10" fill="#b4b5dd" stroke="#000" stroke-width="2.8"/>
<line x1="1503.60" y1="2053.00" x2="1503.60" y2="2128.10" stroke="#000" stroke-width="2.40"/>
<line x1="1499.00" y1="2053.00" x2="1508.20" y2="2053.00" stroke="#000" stroke-width="2.40"/>
<line x1="1499.00" y1="2128.10" x2="1508.20" y2="2128.10" stroke="#000" stroke-width="2.40"/>
<rect x="1525.40" y="2138.70" width="15.20" height="72.00" fill="#e4e4f4" stroke="#000" stroke-width="2.8"/>
<line x1="1533.00" y1="2120.00" x2="1533.00" y2="2154.00" stroke="#000" stroke-width="2.40"/>
<line x1="1528.40" y1="2120.00" x2="1537.60" y2="2120.00" stroke="#000" stroke-width="2.40"/>
<line x1="1528.40" y1="2154.00" x2="1537.60" y2="2154.00" stroke="#000" stroke-width="2.40"/>
<rect x="1555.30" y="2048.80" width="15.20" height="161.90" fill="#f09a9a" stroke="#000" stroke-width="2.8"/>
<line x1="1562.90" y1="1950.40" x2="1562.90" y2="2144.00" stroke="#000" stroke-width="2.40"/>
<line x1="1558.30" y1="1950.40" x2="1567.50" y2="1950.40" stroke="#000" stroke-width="2.40"/>
<line x1="1558.30" y1="2144.00" x2="1567.50" y2="2144.00" stroke="#000" stroke-width="2.40"/>
<line x1="1455.10" y1="1767.70" x2="1455.10" y2="2212.10" stroke="#000" stroke-width="2.90"/>
<line x1="1442.00" y1="2210.70" x2="1702.40" y2="2210.70" stroke="#000" stroke-width="2.90"/>
<line x1="1442.00" y1="1769.10" x2="1455.10" y2="1769.10" stroke="#000" stroke-width="2.90"/>
<text x="1423.92" y="1777.30" font-size="25.00" fill="#000" textLength="13.90" lengthAdjust="spacingAndGlyphs">3</text>
<line x1="1442.00" y1="1916.30" x2="1455.10" y2="1916.30" stroke="#000" stroke-width="2.90"/>
<text x="1424.05" y="1924.50" font-size="25.00" fill="#000" textLength="13.90" lengthAdjust="spacingAndGlyphs">2</text>
<line x1="1442.00" y1="2063.50" x2="1455.10" y2="2063.50" stroke="#000" stroke-width="2.90"/>
<text x="1427.47" y="2071.70" font-size="25.00" fill="#000" textLength="13.90" lengthAdjust="spacingAndGlyphs">1</text>
<line x1="1442.00" y1="2210.70" x2="1455.10" y2="2210.70" stroke="#000" stroke-width="2.90"/>
<text x="1423.80" y="2218.90" font-size="25.00" fill="#000" textLength="13.90" lengthAdjust="spacingAndGlyphs">0</text>
<line x1="1473.80" y1="2210.70" x2="1473.80" y2="2222.80" stroke="#000" stroke-width="2.90"/>
<line x1="1503.20" y1="2210.70" x2="1503.20" y2="2222.80" stroke="#000" stroke-width="2.90"/>
<line x1="1532.60" y1="2210.70" x2="1532.60" y2="2222.80" stroke="#000" stroke-width="2.90"/>
<line x1="1561.90" y1="2210.70" x2="1561.90" y2="2222.80" stroke="#000" stroke-width="2.90"/>
<line x1="1591.70" y1="2210.70" x2="1591.70" y2="2222.80" stroke="#000" stroke-width="2.90"/>
<line x1="1621.10" y1="2210.70" x2="1621.10" y2="2222.80" stroke="#000" stroke-width="2.90"/>
<line x1="1651.10" y1="2210.70" x2="1651.10" y2="2222.80" stroke="#000" stroke-width="2.90"/>
<line x1="1680.50" y1="2210.70" x2="1680.50" y2="2222.80" stroke="#000" stroke-width="2.90"/>
<circle cx="1592.70" cy="2208.30" r="9.40" fill="#ee7773"/>
<line x1="1582.20" y1="2205.50" x2="1603.20" y2="2205.50" stroke="#ee7773" stroke-width="2.20"/>
<circle cx="1622.20" cy="2208.30" r="9.40" fill="#7ba8dd"/>
<line x1="1611.70" y1="2205.50" x2="1632.70" y2="2205.50" stroke="#7ba8dd" stroke-width="2.20"/>
<circle cx="1651.90" cy="2208.30" r="9.40" fill="#c4daf0"/>
<line x1="1641.40" y1="2205.50" x2="1662.40" y2="2205.50" stroke="#c4daf0" stroke-width="2.20"/>
<path d="M1671.5,2207 L1671.5,2204.3 Q1681.4,2200.5 1691.3,2204.3 L1691.3,2207" fill="none" stroke="#2a0f1a" stroke-width="2.2"/>
<ellipse cx="1681.4" cy="2210.3" rx="9.8" ry="7.4" fill="#ee7773"/>
<circle cx="1474.70" cy="1881.50" r="7.15" fill="#fff" stroke="#000" stroke-width="2.90"/>
<circle cx="1474.70" cy="1961.50" r="7.15" fill="#fff" stroke="#000" stroke-width="2.90"/>
<circle cx="1474.70" cy="2095.50" r="7.15" fill="#fff" stroke="#000" stroke-width="2.90"/>
<circle cx="1504.10" cy="2020.70" r="7.15" fill="#fff" stroke="#000" stroke-width="2.90"/>
<circle cx="1504.10" cy="2104.60" r="7.15" fill="#fff" stroke="#000" stroke-width="2.90"/>
<circle cx="1504.10" cy="2148.00" r="7.15" fill="#fff" stroke="#000" stroke-width="2.90"/>
<circle cx="1533.50" cy="2120.30" r="7.15" fill="#fff" stroke="#000" stroke-width="2.90"/>
<circle cx="1533.50" cy="2137.30" r="7.15" fill="#fff" stroke="#000" stroke-width="2.90"/>
<circle cx="1533.50" cy="2153.60" r="7.15" fill="#fff" stroke="#000" stroke-width="2.90"/>
<circle cx="1562.90" cy="1856.40" r="7.15" fill="#fff" stroke="#000" stroke-width="2.90"/>
<circle cx="1566.20" cy="2134.60" r="7.15" fill="#fff" stroke="#000" stroke-width="2.90"/>
<circle cx="1559.70" cy="2147.10" r="7.15" fill="#fff" stroke="#000" stroke-width="2.90"/>
<text x="1459.51" y="2250.70" font-size="25.00" fill="#000" textLength="28.73" lengthAdjust="spacingAndGlyphs">18</text>
<text x="1489.89" y="2250.70" font-size="25.00" fill="#000" textLength="26.33" lengthAdjust="spacingAndGlyphs">24</text>
<text x="1519.64" y="2250.70" font-size="25.00" fill="#000" textLength="26.20" lengthAdjust="spacingAndGlyphs">30</text>
<text x="1549.01" y="2250.70" font-size="25.00" fill="#000" textLength="27.03" lengthAdjust="spacingAndGlyphs">36</text>
<text x="1577.46" y="2250.70" font-size="25.00" fill="#000" textLength="28.35" lengthAdjust="spacingAndGlyphs">18</text>
<text x="1607.44" y="2250.70" font-size="25.00" fill="#000" textLength="27.03" lengthAdjust="spacingAndGlyphs">24</text>
<text x="1637.20" y="2250.70" font-size="25.00" fill="#000" textLength="26.90" lengthAdjust="spacingAndGlyphs">30</text>
<text x="1667.57" y="2250.70" font-size="25.00" fill="#000" textLength="27.03" lengthAdjust="spacingAndGlyphs">36</text>
<text x="1312.87" y="2250.70" font-size="25.00" fill="#000" textLength="127.01" lengthAdjust="spacingAndGlyphs">h post sync</text>
<line x1="1476.40" y1="2271.40" x2="1562.30" y2="2271.40" stroke="#000" stroke-width="1.90"/>
<line x1="1595.00" y1="2271.40" x2="1682.40" y2="2271.40" stroke="#000" stroke-width="1.90"/>
<text x="1470.47" y="2296.60" font-size="25.00" fill="#000" textLength="99.45" lengthAdjust="spacingAndGlyphs">αBMAL1</text>
<text x="1618.35" y="2296.60" font-size="25.00" fill="#000" textLength="42.13" lengthAdjust="spacingAndGlyphs">IgG</text>
<circle cx="1570.50" cy="1801.80" r="7.00" fill="#fff" stroke="#000" stroke-width="2.90"/>
<circle cx="1570.90" cy="1825.50" r="6.80" fill="#000"/>
<text x="1587.98" y="1808.90" font-size="25.00" fill="#000" textLength="98.18" lengthAdjust="spacingAndGlyphs">αBMAL1</text>
<text x="1586.60" y="1831.90" font-size="25.00" fill="#000" textLength="42.91" lengthAdjust="spacingAndGlyphs">IgG</text>
<path d="M1688.7,1801 H1694.3 V1830 H1688.7" fill="none" stroke="#000" stroke-width="1.8"/>
<text x="1698.35" y="1823.70" font-size="25.00" fill="#000" font-style="italic" textLength="108.26" lengthAdjust="spacingAndGlyphs">P=0.0001</text>
<text transform="translate(1407.00 2148.70) rotate(-90)" x="-1.16" y="0" font-size="33.33" fill="#000" textLength="320.01" lengthAdjust="spacingAndGlyphs">% of input/normalized</text>
</svg></body></html>
